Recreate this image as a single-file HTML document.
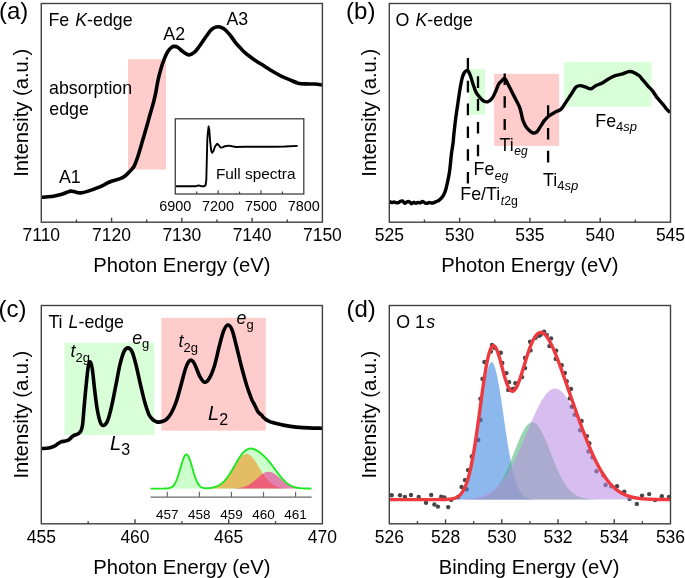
<!DOCTYPE html>
<html><head><meta charset="utf-8"><title>XAS figure</title>
<style>html,body{margin:0;padding:0;background:#fff;width:685px;height:578px;overflow:hidden}
svg text{font-family:"Liberation Sans",sans-serif;fill:#000}</style></head>
<body>
<svg width="685" height="578" viewBox="0 0 685 578" style="display:block;will-change:transform;font-family:'Liberation Sans', sans-serif">
<rect width="685" height="578" fill="#fff"/>
<rect x="128" y="59.3" width="38" height="110.2" fill="#ffcccc"/>
<path d="M41.50,197.30 C42.58,197.22 45.82,197.03 48.00,196.80 C50.18,196.57 52.28,196.32 54.60,195.90 C56.92,195.48 59.83,194.90 61.90,194.30 C63.97,193.70 65.53,192.83 67.00,192.30 C68.47,191.77 69.53,191.22 70.70,191.10 C71.87,190.98 72.78,191.33 74.00,191.60 C75.22,191.87 76.67,192.52 78.00,192.70 C79.33,192.88 80.30,192.97 82.00,192.70 C83.70,192.43 85.47,191.98 88.20,191.10 C90.93,190.22 95.60,188.53 98.40,187.40 C101.20,186.27 102.82,185.33 105.00,184.30 C107.18,183.27 108.95,182.13 111.50,181.20 C114.05,180.27 117.93,179.65 120.30,178.70 C122.67,177.75 124.00,176.85 125.70,175.50 C127.40,174.15 129.12,172.10 130.50,170.60 C131.88,169.10 132.95,168.33 134.00,166.50 C135.05,164.67 135.88,162.15 136.80,159.60 C137.72,157.05 138.58,154.20 139.50,151.20 C140.42,148.20 141.37,144.82 142.30,141.60 C143.23,138.38 144.17,135.13 145.10,131.90 C146.03,128.67 146.98,125.43 147.90,122.20 C148.82,118.97 149.68,115.73 150.60,112.50 C151.52,109.27 152.53,106.17 153.40,102.80 C154.27,99.43 155.03,96.05 155.80,92.30 C156.57,88.55 157.12,84.32 158.00,80.30 C158.88,76.28 160.02,71.85 161.10,68.20 C162.18,64.55 163.35,61.22 164.50,58.40 C165.65,55.58 166.83,53.15 168.00,51.30 C169.17,49.45 170.47,48.12 171.50,47.30 C172.53,46.48 173.17,46.40 174.20,46.40 C175.23,46.40 176.32,46.48 177.70,47.30 C179.08,48.12 180.65,50.03 182.50,51.30 C184.35,52.57 186.83,54.72 188.80,54.90 C190.77,55.08 192.57,53.80 194.30,52.40 C196.03,51.00 197.23,49.15 199.20,46.50 C201.17,43.85 203.98,39.38 206.10,36.50 C208.22,33.62 209.95,30.83 211.90,29.20 C213.85,27.57 215.85,26.82 217.80,26.70 C219.75,26.58 221.65,27.23 223.60,28.50 C225.55,29.77 227.55,32.00 229.50,34.30 C231.45,36.60 233.55,40.08 235.30,42.30 C237.05,44.52 238.30,45.78 240.00,47.60 C241.70,49.42 243.18,51.23 245.50,53.20 C247.82,55.17 250.90,57.33 253.90,59.40 C256.90,61.47 260.05,63.42 263.50,65.60 C266.95,67.78 271.58,70.72 274.60,72.50 C277.62,74.28 279.05,75.08 281.60,76.30 C284.15,77.52 287.13,78.65 289.90,79.80 C292.67,80.95 295.43,82.52 298.20,83.20 C300.97,83.88 303.73,83.77 306.50,83.90 C309.27,84.03 312.22,83.82 314.80,84.00 C317.38,84.18 320.80,84.83 322.00,85.00" fill="none" stroke="#000" stroke-width="3.6" stroke-linejoin="round" stroke-linecap="butt"/>
<rect x="41.30" y="3.50" width="281.10" height="218.70" fill="none" stroke="#404040" stroke-width="1.40"/>
<text x="41.30" y="241.20" font-size="17.50" text-anchor="middle">7110</text>
<line x1="76.44" y1="222.20" x2="76.44" y2="219.60" stroke="#404040" stroke-width="1.40"/>
<line x1="111.57" y1="222.20" x2="111.57" y2="217.70" stroke="#404040" stroke-width="1.40"/>
<text x="111.57" y="241.20" font-size="17.50" text-anchor="middle">7120</text>
<line x1="146.71" y1="222.20" x2="146.71" y2="219.60" stroke="#404040" stroke-width="1.40"/>
<line x1="181.85" y1="222.20" x2="181.85" y2="217.70" stroke="#404040" stroke-width="1.40"/>
<text x="181.85" y="241.20" font-size="17.50" text-anchor="middle">7130</text>
<line x1="216.99" y1="222.20" x2="216.99" y2="219.60" stroke="#404040" stroke-width="1.40"/>
<line x1="252.12" y1="222.20" x2="252.12" y2="217.70" stroke="#404040" stroke-width="1.40"/>
<text x="252.12" y="241.20" font-size="17.50" text-anchor="middle">7140</text>
<line x1="287.26" y1="222.20" x2="287.26" y2="219.60" stroke="#404040" stroke-width="1.40"/>
<text x="322.40" y="241.20" font-size="17.50" text-anchor="middle">7150</text>
<text x="48.40" y="25.60" font-size="17.80" text-anchor="start">Fe <tspan font-style="italic" dx="1.1">K</tspan>-edge</text>
<text x="49.10" y="93.60" font-size="17.80" text-anchor="start">absorption</text>
<text x="49.30" y="114.60" font-size="17.80" text-anchor="start">edge</text>
<text x="59.00" y="183.40" font-size="17.80" text-anchor="start">A1</text>
<text x="163.30" y="40.20" font-size="17.80" text-anchor="start">A2</text>
<text x="226.50" y="25.20" font-size="17.80" text-anchor="start">A3</text>
<path d="M176.00,186.30 L190.00,186.30 L196.00,186.20 L198.70,185.40 L201.00,186.20 L204.50,186.20 L205.60,185.00 L206.30,180.00 L206.80,160.00 L207.30,140.00 L207.90,132.00 L208.60,126.50 L209.30,130.00 L210.20,142.00 L211.20,150.50 L212.20,152.80 L213.50,151.00 L215.00,146.50 L217.10,143.80 L219.00,145.50 L220.70,147.60 L222.50,147.40 L225.00,146.20 L228.80,145.60 L232.00,146.30 L236.00,147.00 L245.00,146.80 L260.00,146.80 L275.00,146.70 L285.00,146.50 L297.70,145.90" fill="none" stroke="#000" stroke-width="1.9" stroke-linejoin="round"/>
<rect x="175.30" y="118.80" width="128.50" height="75.20" fill="none" stroke="#404040" stroke-width="1.30"/>
<text x="175.30" y="210.90" font-size="14.40" text-anchor="middle">6900</text>
<line x1="196.72" y1="194.00" x2="196.72" y2="191.60" stroke="#404040" stroke-width="1.20"/>
<line x1="218.13" y1="194.00" x2="218.13" y2="190.20" stroke="#404040" stroke-width="1.20"/>
<text x="218.13" y="210.90" font-size="14.40" text-anchor="middle">7200</text>
<line x1="239.55" y1="194.00" x2="239.55" y2="191.60" stroke="#404040" stroke-width="1.20"/>
<line x1="260.97" y1="194.00" x2="260.97" y2="190.20" stroke="#404040" stroke-width="1.20"/>
<text x="260.97" y="210.90" font-size="14.40" text-anchor="middle">7500</text>
<line x1="282.38" y1="194.00" x2="282.38" y2="191.60" stroke="#404040" stroke-width="1.20"/>
<text x="303.80" y="210.90" font-size="14.40" text-anchor="middle">7800</text>
<text x="215.90" y="179.10" font-size="15.40" text-anchor="start">Full spectra</text>
<text x="181.85" y="271.90" font-size="20.20" text-anchor="middle">Photon Energy (eV)</text>
<text x="0" y="0" font-size="20.20" text-anchor="middle" transform="translate(27.60,112.85) rotate(-90)">Intensity (a.u.)</text>
<text x="-1.10" y="18.60" font-size="24.00" text-anchor="start">(a)</text>
<rect x="469.3" y="68.8" width="15.7" height="45.9" fill="#d9ffd9"/>
<rect x="494.1" y="73.9" width="65" height="72" fill="#ffcccc"/>
<rect x="563.8" y="62.1" width="87.6" height="44.5" fill="#d9ffd9"/>
<path d="M389.50,201.72 C389.87,201.85 390.97,202.46 391.70,202.51 C392.43,202.57 393.17,202.04 393.90,202.06 C394.63,202.09 395.37,202.56 396.10,202.67 C396.83,202.78 397.57,202.96 398.30,202.73 C399.03,202.49 399.77,201.54 400.50,201.27 C401.23,201.00 401.97,200.80 402.70,201.13 C403.43,201.47 404.17,203.17 404.90,203.28 C405.63,203.38 406.37,202.04 407.10,201.77 C407.83,201.51 408.57,201.39 409.30,201.71 C410.03,202.03 410.77,203.59 411.50,203.69 C412.23,203.79 412.97,202.39 413.70,202.32 C414.43,202.25 415.17,203.27 415.90,203.27 C416.63,203.28 417.37,202.42 418.10,202.34 C418.83,202.25 419.57,202.90 420.30,202.76 C421.03,202.62 421.77,201.49 422.50,201.49 C423.23,201.49 423.97,202.44 424.70,202.75 C425.43,203.06 426.17,203.41 426.90,203.36 C427.63,203.31 428.37,202.52 429.10,202.46 C429.83,202.41 430.57,202.96 431.30,203.03 C432.03,203.09 432.72,203.08 433.50,202.85 C434.28,202.61 435.10,202.02 436.00,201.60 C436.90,201.18 437.82,201.10 438.90,200.30 C439.98,199.50 441.43,198.33 442.50,196.80 C443.57,195.27 444.48,193.47 445.30,191.10 C446.12,188.73 446.68,185.92 447.40,182.60 C448.12,179.28 448.93,175.93 449.60,171.20 C450.27,166.47 450.82,158.93 451.40,154.20 C451.98,149.47 452.70,146.00 453.10,142.80 C453.50,139.60 453.40,138.80 453.80,135.00 C454.20,131.20 454.88,124.85 455.50,120.00 C456.12,115.15 456.68,111.43 457.50,105.90 C458.32,100.37 459.55,91.70 460.40,86.80 C461.25,81.90 461.85,78.97 462.60,76.50 C463.35,74.03 464.03,72.98 464.90,72.00 C465.77,71.02 466.83,69.85 467.80,70.60 C468.77,71.35 469.85,74.30 470.70,76.50 C471.55,78.70 472.03,81.23 472.90,83.80 C473.77,86.37 474.78,89.68 475.90,91.90 C477.02,94.12 478.38,95.63 479.60,97.10 C480.82,98.57 481.87,99.92 483.20,100.70 C484.53,101.48 486.13,102.17 487.60,101.80 C489.07,101.43 490.65,100.27 492.00,98.50 C493.35,96.73 494.58,93.62 495.70,91.20 C496.82,88.78 497.72,85.70 498.70,84.00 C499.68,82.30 500.62,81.93 501.60,81.00 C502.58,80.07 503.62,78.03 504.60,78.40 C505.58,78.77 506.28,80.93 507.50,83.20 C508.72,85.47 510.55,89.33 511.90,92.00 C513.25,94.67 514.25,96.47 515.60,99.20 C516.95,101.93 518.83,105.07 520.00,108.40 C521.17,111.73 521.72,116.33 522.60,119.20 C523.48,122.07 524.27,123.80 525.30,125.60 C526.33,127.40 527.63,128.83 528.80,130.00 C529.97,131.17 531.27,132.13 532.30,132.60 C533.33,133.07 534.13,133.05 535.00,132.80 C535.87,132.55 536.50,132.30 537.50,131.10 C538.50,129.90 539.83,127.38 541.00,125.60 C542.17,123.82 543.18,122.00 544.50,120.40 C545.82,118.80 547.43,117.18 548.90,116.00 C550.37,114.82 552.13,114.02 553.30,113.30 C554.47,112.58 554.88,112.20 555.90,111.70 C556.92,111.20 558.38,110.90 559.40,110.30 C560.42,109.70 560.98,109.33 562.00,108.10 C563.02,106.87 563.97,105.22 565.50,102.90 C567.03,100.58 569.45,96.83 571.20,94.20 C572.95,91.57 574.47,88.53 576.00,87.10 C577.53,85.67 578.78,85.60 580.40,85.60 C582.02,85.60 583.95,86.55 585.70,87.10 C587.45,87.65 589.30,89.10 590.90,88.90 C592.50,88.70 593.40,86.90 595.30,85.90 C597.20,84.90 600.25,83.98 602.30,82.90 C604.35,81.82 605.55,80.57 607.60,79.40 C609.65,78.23 612.27,76.77 614.60,75.90 C616.93,75.03 618.98,74.93 621.60,74.20 C624.22,73.47 627.38,71.27 630.30,71.50 C633.22,71.73 637.10,74.28 639.10,75.60 C641.10,76.92 640.85,77.70 642.30,79.40 C643.75,81.10 646.10,83.88 647.80,85.80 C649.50,87.72 650.95,88.93 652.50,90.90 C654.05,92.87 655.28,95.27 657.10,97.60 C658.92,99.93 661.83,103.00 663.40,104.90 C664.97,106.80 665.40,107.73 666.50,109.00 C667.60,110.27 669.42,111.92 670.00,112.50" fill="none" stroke="#000" stroke-width="3.4" stroke-linejoin="round" stroke-linecap="butt"/>
<line x1="467.90" y1="58.00" x2="467.90" y2="195.00" stroke="#000" stroke-width="2.3" stroke-dasharray="11.6 11.2"/>
<line x1="478.00" y1="76.30" x2="478.00" y2="166.00" stroke="#000" stroke-width="2.3" stroke-dasharray="11.6 11.2"/>
<line x1="504.70" y1="73.40" x2="504.70" y2="130.00" stroke="#000" stroke-width="2.3" stroke-dasharray="11.6 11.2"/>
<line x1="548.10" y1="105.20" x2="548.10" y2="163.00" stroke="#000" stroke-width="2.3" stroke-dasharray="11.6 11.2"/>
<rect x="389.30" y="3.50" width="281.20" height="218.70" fill="none" stroke="#404040" stroke-width="1.40"/>
<text x="389.30" y="241.20" font-size="17.50" text-anchor="middle">525</text>
<line x1="424.45" y1="222.20" x2="424.45" y2="219.60" stroke="#404040" stroke-width="1.40"/>
<line x1="459.60" y1="222.20" x2="459.60" y2="217.70" stroke="#404040" stroke-width="1.40"/>
<text x="459.60" y="241.20" font-size="17.50" text-anchor="middle">530</text>
<line x1="494.75" y1="222.20" x2="494.75" y2="219.60" stroke="#404040" stroke-width="1.40"/>
<line x1="529.90" y1="222.20" x2="529.90" y2="217.70" stroke="#404040" stroke-width="1.40"/>
<text x="529.90" y="241.20" font-size="17.50" text-anchor="middle">535</text>
<line x1="565.05" y1="222.20" x2="565.05" y2="219.60" stroke="#404040" stroke-width="1.40"/>
<line x1="600.20" y1="222.20" x2="600.20" y2="217.70" stroke="#404040" stroke-width="1.40"/>
<text x="600.20" y="241.20" font-size="17.50" text-anchor="middle">540</text>
<line x1="635.35" y1="222.20" x2="635.35" y2="219.60" stroke="#404040" stroke-width="1.40"/>
<text x="670.50" y="241.20" font-size="17.50" text-anchor="middle">545</text>
<text x="395.60" y="26.00" font-size="17.80" text-anchor="start">O <tspan font-style="italic" dx="1.1">K</tspan>-edge</text>
<text x="499.50" y="150.60" font-size="17.80">Ti<tspan font-size="12.00" dx="0.60" dy="4.40"><tspan font-style="italic">eg</tspan></tspan></text>
<text x="473.60" y="175.30" font-size="17.80">Fe<tspan font-size="12.00" dx="0.50" dy="4.40"><tspan font-style="italic">eg</tspan></tspan></text>
<text x="460.30" y="199.90" font-size="17.80">Fe/Ti<tspan font-size="12.30" dx="0.70" dy="4.60"><tspan font-style="italic">t</tspan>2g</tspan></text>
<text x="543.00" y="186.00" font-size="17.80">Ti<tspan font-size="13.00" dx="0.00" dy="4.20">4<tspan font-style="italic">sp</tspan></tspan></text>
<text x="595.30" y="127.20" font-size="17.80">Fe<tspan font-size="13.00" dx="0.00" dy="4.20">4<tspan font-style="italic">sp</tspan></tspan></text>
<text x="529.90" y="271.90" font-size="20.20" text-anchor="middle">Photon Energy (eV)</text>
<text x="0" y="0" font-size="20.20" text-anchor="middle" transform="translate(376.00,112.85) rotate(-90)">Intensity (a.u.)</text>
<text x="346.10" y="18.60" font-size="24.00" text-anchor="start">(b)</text>
<rect x="64.5" y="342.6" width="89.6" height="92.5" fill="#d9ffd9"/>
<rect x="161.4" y="317.8" width="104.4" height="112.9" fill="#ffcccc"/>
<path d="M41.50,448.50 C42.72,448.42 46.57,448.45 48.80,448.00 C51.03,447.55 53.37,446.53 54.90,445.80 C56.43,445.07 56.98,444.25 58.00,443.60 C59.02,442.95 59.77,442.33 61.00,441.90 C62.23,441.47 64.08,441.37 65.40,441.00 C66.72,440.63 67.58,440.57 68.90,439.70 C70.22,438.83 71.83,436.75 73.30,435.80 C74.77,434.85 76.47,434.73 77.70,434.00 C78.93,433.27 79.90,432.85 80.70,431.40 C81.50,429.95 81.95,429.12 82.50,425.30 C83.05,421.48 83.40,415.10 84.00,408.50 C84.60,401.90 85.40,392.62 86.10,385.70 C86.80,378.78 87.52,370.98 88.20,367.00 C88.88,363.02 89.52,361.47 90.20,361.80 C90.88,362.13 91.60,364.68 92.30,369.00 C93.00,373.32 93.60,381.12 94.40,387.70 C95.20,394.28 96.13,402.78 97.10,408.50 C98.07,414.22 99.17,419.17 100.20,422.00 C101.23,424.83 102.08,425.67 103.30,425.50 C104.52,425.33 106.12,424.18 107.50,421.00 C108.88,417.82 110.22,412.28 111.60,406.40 C112.98,400.52 114.42,392.62 115.80,385.70 C117.18,378.78 118.52,370.62 119.90,364.90 C121.28,359.18 122.72,354.23 124.10,351.40 C125.48,348.57 126.82,347.72 128.20,347.90 C129.58,348.08 131.02,349.32 132.40,352.50 C133.78,355.68 135.12,361.47 136.50,367.00 C137.88,372.53 139.32,379.82 140.70,385.70 C142.08,391.58 143.42,397.47 144.80,402.30 C146.18,407.13 147.62,411.77 149.00,414.70 C150.38,417.63 151.93,418.77 153.10,419.90 C154.27,421.03 154.97,421.13 156.00,421.50 C157.03,421.87 157.70,422.35 159.30,422.10 C160.90,421.85 163.68,421.38 165.60,420.00 C167.52,418.62 169.07,416.73 170.80,413.80 C172.53,410.87 174.28,407.25 176.00,402.40 C177.72,397.55 179.55,390.23 181.10,384.70 C182.65,379.17 184.08,373.00 185.30,369.20 C186.52,365.40 187.37,363.40 188.40,361.90 C189.43,360.40 190.47,359.85 191.50,360.20 C192.53,360.55 193.22,361.30 194.60,364.00 C195.98,366.70 198.17,373.37 199.80,376.40 C201.43,379.43 202.83,381.85 204.40,382.20 C205.97,382.55 207.53,381.20 209.20,378.50 C210.87,375.80 212.68,371.53 214.40,366.00 C216.12,360.47 217.95,351.17 219.50,345.30 C221.05,339.43 222.32,334.18 223.70,330.80 C225.08,327.42 226.42,325.18 227.80,325.00 C229.18,324.82 230.60,326.32 232.00,329.70 C233.40,333.08 234.65,339.25 236.20,345.30 C237.75,351.35 239.58,359.43 241.30,366.00 C243.02,372.57 244.77,379.15 246.50,384.70 C248.23,390.25 250.42,396.07 251.70,399.30 C252.98,402.53 253.15,402.03 254.20,404.10 C255.25,406.17 256.78,409.88 258.00,411.70 C259.22,413.52 260.47,413.95 261.50,415.00 C262.53,416.05 263.00,416.98 264.20,418.00 C265.40,419.02 266.33,420.10 268.70,421.10 C271.07,422.10 274.77,423.12 278.40,424.00 C282.03,424.88 286.47,425.80 290.50,426.40 C294.53,427.00 297.35,427.28 302.60,427.60 C307.85,427.92 318.77,428.18 322.00,428.30" fill="none" stroke="#000" stroke-width="3.6" stroke-linejoin="round" stroke-linecap="butt"/>
<path d="M150.50,488.60 L150.50,488.60 L151.00,488.60 L151.50,488.60 L152.00,488.60 L152.50,488.60 L153.00,488.60 L153.50,488.60 L154.00,488.60 L154.50,488.60 L155.00,488.60 L155.50,488.60 L156.00,488.60 L156.50,488.60 L157.00,488.60 L157.50,488.60 L158.00,488.60 L158.50,488.60 L159.00,488.60 L159.50,488.60 L160.00,488.60 L160.50,488.60 L161.00,488.60 L161.50,488.60 L162.00,488.59 L162.50,488.59 L163.00,488.59 L163.50,488.58 L164.00,488.57 L164.50,488.57 L165.00,488.55 L165.50,488.54 L166.00,488.51 L166.50,488.48 L167.00,488.45 L167.50,488.40 L168.00,488.34 L168.50,488.26 L169.00,488.16 L169.50,488.04 L170.00,487.88 L170.50,487.70 L171.00,487.47 L171.50,487.19 L172.00,486.87 L172.50,486.47 L173.00,486.01 L173.50,485.48 L174.00,484.85 L174.50,484.14 L175.00,483.33 L175.50,482.41 L176.00,481.39 L176.50,480.26 L177.00,479.02 L177.50,477.67 L178.00,476.22 L178.50,474.69 L179.00,473.07 L179.50,471.39 L180.00,469.67 L180.50,467.92 L181.00,466.17 L181.50,464.45 L182.00,462.78 L182.50,461.19 L183.00,459.72 L183.50,458.38 L184.00,457.21 L184.50,456.22 L185.00,455.45 L185.50,454.89 L186.00,454.58 L186.50,454.50 L187.00,454.68 L187.50,455.09 L188.00,455.73 L188.50,456.59 L189.00,457.65 L189.50,458.90 L190.00,460.29 L190.50,461.81 L191.00,463.43 L191.50,465.13 L192.00,466.86 L192.50,468.61 L193.00,470.36 L193.50,472.06 L194.00,473.72 L194.50,475.30 L195.00,476.80 L195.50,478.21 L196.00,479.51 L196.50,480.71 L197.00,481.79 L197.50,482.77 L198.00,483.64 L198.50,484.41 L199.00,485.08 L199.50,485.66 L200.00,486.16 L200.50,486.59 L201.00,486.95 L201.50,487.25 L202.00,487.49 L202.50,487.69 L203.00,487.85 L203.50,487.98 L204.00,488.07 L204.50,488.15 L205.00,488.20 L205.50,488.23 L206.00,488.25 L206.50,488.25 L207.00,488.25 L207.50,488.23 L208.00,488.21 L208.50,488.18 L209.00,488.14 L209.50,488.09 L210.00,488.03 L210.50,487.97 L211.00,487.90 L211.50,487.82 L212.00,487.73 L212.50,487.64 L213.00,487.53 L213.50,487.42 L214.00,487.29 L214.50,487.15 L215.00,487.00 L215.50,486.84 L216.00,486.66 L216.50,486.47 L217.00,486.27 L217.50,486.04 L218.00,485.81 L218.50,485.55 L219.00,485.27 L219.50,484.98 L220.00,484.67 L220.50,484.33 L221.00,483.98 L221.50,483.60 L222.00,483.20 L222.50,482.78 L223.00,482.33 L223.50,481.86 L224.00,481.36 L224.50,480.85 L225.00,480.30 L225.50,479.73 L226.00,479.14 L226.50,478.52 L227.00,477.88 L227.50,477.22 L228.00,476.53 L228.50,475.82 L229.00,475.08 L229.50,474.33 L230.00,473.56 L230.50,472.77 L231.00,471.96 L231.50,471.14 L232.00,470.31 L232.50,469.46 L233.00,468.60 L233.50,467.74 L234.00,466.87 L234.50,466.00 L235.00,465.12 L235.50,464.25 L236.00,463.38 L236.50,462.51 L237.00,461.65 L237.50,460.81 L238.00,459.98 L238.50,459.16 L239.00,458.36 L239.50,457.58 L240.00,456.83 L240.50,456.09 L241.00,455.39 L241.50,454.71 L242.00,454.07 L242.50,453.45 L243.00,452.87 L243.50,452.32 L244.00,451.81 L244.50,451.34 L245.00,450.90 L245.50,450.50 L246.00,450.14 L246.50,449.81 L247.00,449.53 L247.50,449.28 L248.00,449.07 L248.50,448.90 L249.00,448.77 L249.50,448.67 L250.00,448.60 L250.50,448.57 L251.00,448.57 L251.50,448.60 L252.00,448.67 L252.50,448.76 L253.00,448.87 L253.50,449.02 L254.00,449.19 L254.50,449.38 L255.00,449.59 L255.50,449.83 L256.00,450.08 L256.50,450.35 L257.00,450.64 L257.50,450.95 L258.00,451.27 L258.50,451.60 L259.00,451.95 L259.50,452.32 L260.00,452.69 L260.50,453.08 L261.00,453.48 L261.50,453.89 L262.00,454.31 L262.50,454.74 L263.00,455.19 L263.50,455.65 L264.00,456.11 L264.50,456.59 L265.00,457.09 L265.50,457.59 L266.00,458.11 L266.50,458.64 L267.00,459.18 L267.50,459.73 L268.00,460.30 L268.50,460.88 L269.00,461.47 L269.50,462.07 L270.00,462.68 L270.50,463.30 L271.00,463.94 L271.50,464.58 L272.00,465.23 L272.50,465.89 L273.00,466.55 L273.50,467.22 L274.00,467.90 L274.50,468.58 L275.00,469.26 L275.50,469.95 L276.00,470.63 L276.50,471.31 L277.00,471.99 L277.50,472.67 L278.00,473.34 L278.50,474.00 L279.00,474.65 L279.50,475.30 L280.00,475.94 L280.50,476.56 L281.00,477.17 L281.50,477.77 L282.00,478.35 L282.50,478.91 L283.00,479.46 L283.50,480.00 L284.00,480.51 L284.50,481.01 L285.00,481.49 L285.50,481.95 L286.00,482.39 L286.50,482.81 L287.00,483.21 L287.50,483.59 L288.00,483.96 L288.50,484.30 L289.00,484.63 L289.50,484.93 L290.00,485.22 L290.50,485.50 L291.00,485.75 L291.50,485.99 L292.00,486.22 L292.50,486.42 L293.00,486.62 L293.50,486.80 L294.00,486.96 L294.50,487.12 L295.00,487.26 L295.50,487.39 L296.00,487.51 L296.50,487.62 L297.00,487.72 L297.50,487.81 L298.00,487.89 L298.50,487.97 L299.00,488.04 L299.50,488.10 L300.00,488.16 L300.50,488.21 L301.00,488.25 L301.50,488.29 L302.00,488.33 L302.50,488.36 L303.00,488.39 L303.50,488.42 L304.00,488.44 L304.50,488.46 L305.00,488.48 L305.50,488.49 L306.00,488.51 L306.50,488.52 L307.00,488.53 L307.50,488.54 L308.00,488.55 L308.50,488.56 L309.00,488.56 L309.50,488.57 L310.00,488.57 L310.50,488.58 L311.00,488.58 L311.50,488.58 L311.50,488.60 Z" fill="#ccffcc"/>
<path d="M205.00,488.60 L205.00,488.43 L205.50,488.41 L206.00,488.39 L206.50,488.36 L207.00,488.33 L207.50,488.29 L208.00,488.25 L208.50,488.21 L209.00,488.16 L209.50,488.10 L210.00,488.04 L210.50,487.98 L211.00,487.90 L211.50,487.82 L212.00,487.74 L212.50,487.64 L213.00,487.53 L213.50,487.42 L214.00,487.29 L214.50,487.15 L215.00,487.00 L215.50,486.84 L216.00,486.67 L216.50,486.47 L217.00,486.27 L217.50,486.05 L218.00,485.81 L218.50,485.56 L219.00,485.28 L219.50,484.99 L220.00,484.68 L220.50,484.34 L221.00,483.99 L221.50,483.62 L222.00,483.22 L222.50,482.80 L223.00,482.35 L223.50,481.89 L224.00,481.40 L224.50,480.88 L225.00,480.34 L225.50,479.78 L226.00,479.20 L226.50,478.59 L227.00,477.96 L227.50,477.30 L228.00,476.62 L228.50,475.93 L229.00,475.21 L229.50,474.47 L230.00,473.72 L230.50,472.95 L231.00,472.17 L231.50,471.38 L232.00,470.57 L232.50,469.75 L233.00,468.93 L233.50,468.11 L234.00,467.28 L234.50,466.46 L235.00,465.64 L235.50,464.82 L236.00,464.02 L236.50,463.22 L237.00,462.44 L237.50,461.68 L238.00,460.94 L238.50,460.23 L239.00,459.54 L239.50,458.88 L240.00,458.25 L240.50,457.65 L241.00,457.10 L241.50,456.58 L242.00,456.11 L242.50,455.67 L243.00,455.29 L243.50,454.95 L244.00,454.66 L244.50,454.43 L245.00,454.24 L245.50,454.11 L246.00,454.03 L246.50,454.00 L247.00,454.03 L247.50,454.11 L248.00,454.24 L248.50,454.43 L249.00,454.66 L249.50,454.95 L250.00,455.29 L250.50,455.67 L251.00,456.11 L251.50,456.58 L252.00,457.10 L252.50,457.65 L253.00,458.25 L253.50,458.88 L254.00,459.54 L254.50,460.23 L255.00,460.94 L255.50,461.68 L256.00,462.44 L256.50,463.22 L257.00,464.02 L257.50,464.82 L258.00,465.64 L258.50,466.46 L259.00,467.28 L259.50,468.11 L260.00,468.93 L260.50,469.75 L261.00,470.57 L261.50,471.38 L262.00,472.17 L262.50,472.95 L263.00,473.72 L263.50,474.47 L264.00,475.21 L264.50,475.93 L265.00,476.62 L265.50,477.30 L266.00,477.96 L266.50,478.59 L267.00,479.20 L267.50,479.78 L268.00,480.34 L268.50,480.88 L269.00,481.40 L269.50,481.89 L270.00,482.35 L270.50,482.80 L271.00,483.22 L271.50,483.62 L272.00,483.99 L272.50,484.34 L273.00,484.68 L273.50,484.99 L274.00,485.28 L274.50,485.56 L275.00,485.81 L275.50,486.05 L276.00,486.27 L276.50,486.47 L277.00,486.67 L277.50,486.84 L278.00,487.00 L278.50,487.15 L279.00,487.29 L279.50,487.42 L280.00,487.53 L280.50,487.64 L281.00,487.74 L281.50,487.82 L282.00,487.90 L282.50,487.98 L283.00,488.04 L283.50,488.10 L284.00,488.16 L284.50,488.21 L285.00,488.25 L285.50,488.29 L286.00,488.33 L286.50,488.36 L287.00,488.39 L287.50,488.41 L288.00,488.43 L288.50,488.45 L289.00,488.47 L289.50,488.49 L290.00,488.50 L290.50,488.51 L291.00,488.53 L291.50,488.54 L292.00,488.54 L292.50,488.55 L293.00,488.56 L293.50,488.56 L294.00,488.57 L294.50,488.57 L295.00,488.58 L295.50,488.58 L296.00,488.58 L296.50,488.59 L297.00,488.59 L297.50,488.59 L298.00,488.59 L298.50,488.59 L299.00,488.59 L299.50,488.59 L300.00,488.60 L300.50,488.60 L301.00,488.60 L301.50,488.60 L302.00,488.60 L302.50,488.60 L303.00,488.60 L303.50,488.60 L304.00,488.60 L304.50,488.60 L305.00,488.60 L305.50,488.60 L306.00,488.60 L306.50,488.60 L307.00,488.60 L307.50,488.60 L308.00,488.60 L308.50,488.60 L309.00,488.60 L309.50,488.60 L310.00,488.60 L310.50,488.60 L311.00,488.60 L311.50,488.60 L311.50,488.60 Z" fill="#e4bc64"/>
<path d="M225.00,488.60 L225.00,488.59 L225.50,488.59 L226.00,488.58 L226.50,488.58 L227.00,488.58 L227.50,488.57 L228.00,488.57 L228.50,488.56 L229.00,488.56 L229.50,488.55 L230.00,488.54 L230.50,488.53 L231.00,488.52 L231.50,488.51 L232.00,488.50 L232.50,488.48 L233.00,488.46 L233.50,488.44 L234.00,488.42 L234.50,488.40 L235.00,488.37 L235.50,488.34 L236.00,488.30 L236.50,488.26 L237.00,488.22 L237.50,488.17 L238.00,488.12 L238.50,488.06 L239.00,488.00 L239.50,487.93 L240.00,487.85 L240.50,487.76 L241.00,487.67 L241.50,487.57 L242.00,487.46 L242.50,487.34 L243.00,487.21 L243.50,487.07 L244.00,486.92 L244.50,486.75 L245.00,486.58 L245.50,486.39 L246.00,486.19 L246.50,485.98 L247.00,485.75 L247.50,485.51 L248.00,485.26 L248.50,484.99 L249.00,484.70 L249.50,484.41 L250.00,484.09 L250.50,483.77 L251.00,483.43 L251.50,483.08 L252.00,482.71 L252.50,482.33 L253.00,481.94 L253.50,481.54 L254.00,481.13 L254.50,480.71 L255.00,480.29 L255.50,479.85 L256.00,479.42 L256.50,478.97 L257.00,478.53 L257.50,478.08 L258.00,477.64 L258.50,477.20 L259.00,476.76 L259.50,476.33 L260.00,475.91 L260.50,475.49 L261.00,475.09 L261.50,474.71 L262.00,474.34 L262.50,473.99 L263.00,473.65 L263.50,473.34 L264.00,473.05 L264.50,472.79 L265.00,472.55 L265.50,472.34 L266.00,472.16 L266.50,472.01 L267.00,471.88 L267.50,471.79 L268.00,471.73 L268.50,471.70 L269.00,471.71 L269.50,471.74 L270.00,471.81 L270.50,471.91 L271.00,472.03 L271.50,472.19 L272.00,472.38 L272.50,472.60 L273.00,472.84 L273.50,473.11 L274.00,473.40 L274.50,473.72 L275.00,474.05 L275.50,474.41 L276.00,474.78 L276.50,475.17 L277.00,475.58 L277.50,475.99 L278.00,476.41 L278.50,476.85 L279.00,477.28 L279.50,477.73 L280.00,478.17 L280.50,478.62 L281.00,479.06 L281.50,479.50 L282.00,479.94 L282.50,480.37 L283.00,480.80 L283.50,481.22 L284.00,481.63 L284.50,482.02 L285.00,482.41 L285.50,482.79 L286.00,483.15 L286.50,483.50 L287.00,483.84 L287.50,484.16 L288.00,484.47 L288.50,484.76 L289.00,485.04 L289.50,485.31 L290.00,485.56 L290.50,485.80 L291.00,486.02 L291.50,486.23 L292.00,486.43 L292.50,486.61 L293.00,486.79 L293.50,486.95 L294.00,487.10 L294.50,487.24 L295.00,487.36 L295.50,487.48 L296.00,487.59 L296.50,487.69 L297.00,487.78 L297.50,487.87 L298.00,487.94 L298.50,488.01 L299.00,488.07 L299.50,488.13 L300.00,488.18 L300.50,488.23 L301.00,488.27 L301.50,488.31 L302.00,488.34 L302.50,488.38 L303.00,488.40 L303.50,488.43 L304.00,488.45 L304.50,488.47 L305.00,488.48 L305.50,488.50 L306.00,488.51 L306.50,488.52 L307.00,488.53 L307.50,488.54 L308.00,488.55 L308.50,488.56 L309.00,488.56 L309.50,488.57 L310.00,488.57 L310.50,488.58 L311.00,488.58 L311.50,488.58 L311.50,488.60 Z" fill="#f8008a" fill-opacity="0.49"/>
<path d="M150.50,488.60 L151.00,488.60 L151.50,488.60 L152.00,488.60 L152.50,488.60 L153.00,488.60 L153.50,488.60 L154.00,488.60 L154.50,488.60 L155.00,488.60 L155.50,488.60 L156.00,488.60 L156.50,488.60 L157.00,488.60 L157.50,488.60 L158.00,488.60 L158.50,488.60 L159.00,488.60 L159.50,488.60 L160.00,488.60 L160.50,488.60 L161.00,488.60 L161.50,488.60 L162.00,488.59 L162.50,488.59 L163.00,488.59 L163.50,488.58 L164.00,488.57 L164.50,488.57 L165.00,488.55 L165.50,488.54 L166.00,488.51 L166.50,488.48 L167.00,488.45 L167.50,488.40 L168.00,488.34 L168.50,488.26 L169.00,488.16 L169.50,488.04 L170.00,487.88 L170.50,487.70 L171.00,487.47 L171.50,487.19 L172.00,486.87 L172.50,486.47 L173.00,486.01 L173.50,485.48 L174.00,484.85 L174.50,484.14 L175.00,483.33 L175.50,482.41 L176.00,481.39 L176.50,480.26 L177.00,479.02 L177.50,477.67 L178.00,476.22 L178.50,474.69 L179.00,473.07 L179.50,471.39 L180.00,469.67 L180.50,467.92 L181.00,466.17 L181.50,464.45 L182.00,462.78 L182.50,461.19 L183.00,459.72 L183.50,458.38 L184.00,457.21 L184.50,456.22 L185.00,455.45 L185.50,454.89 L186.00,454.58 L186.50,454.50 L187.00,454.68 L187.50,455.09 L188.00,455.73 L188.50,456.59 L189.00,457.65 L189.50,458.90 L190.00,460.29 L190.50,461.81 L191.00,463.43 L191.50,465.13 L192.00,466.86 L192.50,468.61 L193.00,470.36 L193.50,472.06 L194.00,473.72 L194.50,475.30 L195.00,476.80 L195.50,478.21 L196.00,479.51 L196.50,480.71 L197.00,481.79 L197.50,482.77 L198.00,483.64 L198.50,484.41 L199.00,485.08 L199.50,485.66 L200.00,486.16 L200.50,486.59 L201.00,486.95 L201.50,487.25 L202.00,487.49 L202.50,487.69 L203.00,487.85 L203.50,487.98 L204.00,488.07 L204.50,488.15 L205.00,488.20 L205.50,488.23 L206.00,488.25 L206.50,488.25 L207.00,488.25 L207.50,488.23 L208.00,488.21 L208.50,488.18 L209.00,488.14 L209.50,488.09 L210.00,488.03 L210.50,487.97 L211.00,487.90 L211.50,487.82 L212.00,487.73 L212.50,487.64 L213.00,487.53 L213.50,487.42 L214.00,487.29 L214.50,487.15 L215.00,487.00 L215.50,486.84 L216.00,486.66 L216.50,486.47 L217.00,486.27 L217.50,486.04 L218.00,485.81 L218.50,485.55 L219.00,485.27 L219.50,484.98 L220.00,484.67 L220.50,484.33 L221.00,483.98 L221.50,483.60 L222.00,483.20 L222.50,482.78 L223.00,482.33 L223.50,481.86 L224.00,481.36 L224.50,480.85 L225.00,480.30 L225.50,479.73 L226.00,479.14 L226.50,478.52 L227.00,477.88 L227.50,477.22 L228.00,476.53 L228.50,475.82 L229.00,475.08 L229.50,474.33 L230.00,473.56 L230.50,472.77 L231.00,471.96 L231.50,471.14 L232.00,470.31 L232.50,469.46 L233.00,468.60 L233.50,467.74 L234.00,466.87 L234.50,466.00 L235.00,465.12 L235.50,464.25 L236.00,463.38 L236.50,462.51 L237.00,461.65 L237.50,460.81 L238.00,459.98 L238.50,459.16 L239.00,458.36 L239.50,457.58 L240.00,456.83 L240.50,456.09 L241.00,455.39 L241.50,454.71 L242.00,454.07 L242.50,453.45 L243.00,452.87 L243.50,452.32 L244.00,451.81 L244.50,451.34 L245.00,450.90 L245.50,450.50 L246.00,450.14 L246.50,449.81 L247.00,449.53 L247.50,449.28 L248.00,449.07 L248.50,448.90 L249.00,448.77 L249.50,448.67 L250.00,448.60 L250.50,448.57 L251.00,448.57 L251.50,448.60 L252.00,448.67 L252.50,448.76 L253.00,448.87 L253.50,449.02 L254.00,449.19 L254.50,449.38 L255.00,449.59 L255.50,449.83 L256.00,450.08 L256.50,450.35 L257.00,450.64 L257.50,450.95 L258.00,451.27 L258.50,451.60 L259.00,451.95 L259.50,452.32 L260.00,452.69 L260.50,453.08 L261.00,453.48 L261.50,453.89 L262.00,454.31 L262.50,454.74 L263.00,455.19 L263.50,455.65 L264.00,456.11 L264.50,456.59 L265.00,457.09 L265.50,457.59 L266.00,458.11 L266.50,458.64 L267.00,459.18 L267.50,459.73 L268.00,460.30 L268.50,460.88 L269.00,461.47 L269.50,462.07 L270.00,462.68 L270.50,463.30 L271.00,463.94 L271.50,464.58 L272.00,465.23 L272.50,465.89 L273.00,466.55 L273.50,467.22 L274.00,467.90 L274.50,468.58 L275.00,469.26 L275.50,469.95 L276.00,470.63 L276.50,471.31 L277.00,471.99 L277.50,472.67 L278.00,473.34 L278.50,474.00 L279.00,474.65 L279.50,475.30 L280.00,475.94 L280.50,476.56 L281.00,477.17 L281.50,477.77 L282.00,478.35 L282.50,478.91 L283.00,479.46 L283.50,480.00 L284.00,480.51 L284.50,481.01 L285.00,481.49 L285.50,481.95 L286.00,482.39 L286.50,482.81 L287.00,483.21 L287.50,483.59 L288.00,483.96 L288.50,484.30 L289.00,484.63 L289.50,484.93 L290.00,485.22 L290.50,485.50 L291.00,485.75 L291.50,485.99 L292.00,486.22 L292.50,486.42 L293.00,486.62 L293.50,486.80 L294.00,486.96 L294.50,487.12 L295.00,487.26 L295.50,487.39 L296.00,487.51 L296.50,487.62 L297.00,487.72 L297.50,487.81 L298.00,487.89 L298.50,487.97 L299.00,488.04 L299.50,488.10 L300.00,488.16 L300.50,488.21 L301.00,488.25 L301.50,488.29 L302.00,488.33 L302.50,488.36 L303.00,488.39 L303.50,488.42 L304.00,488.44 L304.50,488.46 L305.00,488.48 L305.50,488.49 L306.00,488.51 L306.50,488.52 L307.00,488.53 L307.50,488.54 L308.00,488.55 L308.50,488.56 L309.00,488.56 L309.50,488.57 L310.00,488.57 L310.50,488.58 L311.00,488.58 L311.50,488.58" fill="none" stroke="#1ee81e" stroke-width="1.9" stroke-linejoin="round"/>
<line x1="150.5" y1="497.1" x2="311.7" y2="497.1" stroke="#6a6a6a" stroke-width="1.4"/>
<line x1="167.30" y1="497.1" x2="167.30" y2="491.8" stroke="#6a6a6a" stroke-width="1.2"/>
<text x="167.30" y="518.60" font-size="13.50" text-anchor="middle">457</text>
<line x1="199.37" y1="497.1" x2="199.37" y2="491.8" stroke="#6a6a6a" stroke-width="1.2"/>
<text x="199.37" y="518.60" font-size="13.50" text-anchor="middle">458</text>
<line x1="231.44" y1="497.1" x2="231.44" y2="491.8" stroke="#6a6a6a" stroke-width="1.2"/>
<text x="231.44" y="518.60" font-size="13.50" text-anchor="middle">459</text>
<line x1="263.51" y1="497.1" x2="263.51" y2="491.8" stroke="#6a6a6a" stroke-width="1.2"/>
<text x="263.51" y="518.60" font-size="13.50" text-anchor="middle">460</text>
<line x1="295.58" y1="497.1" x2="295.58" y2="491.8" stroke="#6a6a6a" stroke-width="1.2"/>
<text x="295.58" y="518.60" font-size="13.50" text-anchor="middle">461</text>
<rect x="41.30" y="305.50" width="281.10" height="218.30" fill="none" stroke="#404040" stroke-width="1.40"/>
<text x="41.30" y="542.80" font-size="17.50" text-anchor="middle">455</text>
<line x1="88.15" y1="523.80" x2="88.15" y2="521.20" stroke="#404040" stroke-width="1.40"/>
<line x1="135.00" y1="523.80" x2="135.00" y2="519.30" stroke="#404040" stroke-width="1.40"/>
<text x="135.00" y="542.80" font-size="17.50" text-anchor="middle">460</text>
<line x1="181.85" y1="523.80" x2="181.85" y2="521.20" stroke="#404040" stroke-width="1.40"/>
<line x1="228.70" y1="523.80" x2="228.70" y2="519.30" stroke="#404040" stroke-width="1.40"/>
<text x="228.70" y="542.80" font-size="17.50" text-anchor="middle">465</text>
<line x1="275.55" y1="523.80" x2="275.55" y2="521.20" stroke="#404040" stroke-width="1.40"/>
<text x="322.40" y="542.80" font-size="17.50" text-anchor="middle">470</text>
<text x="48.40" y="327.70" font-size="17.80" text-anchor="start">Ti <tspan font-style="italic" dx="1.1">L</tspan>-edge</text>
<text x="70.60" y="357.30" font-size="17.80"><tspan font-style="italic">t</tspan><tspan font-size="13.00" dy="4.90">2g</tspan></text>
<text x="132.20" y="343.80" font-size="17.80"><tspan font-style="italic">e</tspan><tspan font-size="13.00" dy="4.30">g</tspan></text>
<text x="178.60" y="346.70" font-size="17.80"><tspan font-style="italic">t</tspan><tspan font-size="13.00" dy="4.90">2g</tspan></text>
<text x="236.50" y="324.40" font-size="17.80"><tspan font-style="italic">e</tspan><tspan font-size="13.00" dy="4.30">g</tspan></text>
<text x="110.0" y="450.0" font-size="20"><tspan font-style="italic">L</tspan><tspan font-size="16" dy="5">3</tspan></text>
<text x="208.0" y="420.0" font-size="20"><tspan font-style="italic">L</tspan><tspan font-size="16" dy="5">2</tspan></text>
<text x="181.85" y="573.70" font-size="20.20" text-anchor="middle">Photon Energy (eV)</text>
<text x="0" y="0" font-size="20.20" text-anchor="middle" transform="translate(27.60,414.65) rotate(-90)">Intensity (a.u.)</text>
<text x="-1.50" y="316.90" font-size="24.00" text-anchor="start">(c)</text>
<g fill="#464646"><circle cx="391.7" cy="495.2" r="2.2"/><circle cx="400.0" cy="495.2" r="2.2"/><circle cx="404.9" cy="496.9" r="2.2"/><circle cx="411.0" cy="495.0" r="2.2"/><circle cx="418.7" cy="496.9" r="2.2"/><circle cx="426.0" cy="502.8" r="2.2"/><circle cx="431.2" cy="495.0" r="2.2"/><circle cx="434.4" cy="504.5" r="2.2"/><circle cx="437.9" cy="506.6" r="2.2"/><circle cx="441.2" cy="496.7" r="2.2"/><circle cx="444.4" cy="497.5" r="2.2"/><circle cx="448.2" cy="507.1" r="2.2"/><circle cx="451.1" cy="499.9" r="2.2"/><circle cx="458.1" cy="497.0" r="2.2"/><circle cx="461.6" cy="487.0" r="2.2"/><circle cx="466.6" cy="489.2" r="2.2"/><circle cx="464.9" cy="480.1" r="2.2"/><circle cx="468.0" cy="470.1" r="2.2"/><circle cx="471.8" cy="456.5" r="2.2"/><circle cx="478.3" cy="439.9" r="2.2"/><circle cx="480.5" cy="420.0" r="2.2"/><circle cx="480.4" cy="398.8" r="2.2"/><circle cx="482.5" cy="378.9" r="2.2"/><circle cx="484.4" cy="362.0" r="2.2"/><circle cx="490.9" cy="351.5" r="2.2"/><circle cx="492.0" cy="345.0" r="2.2"/><circle cx="494.5" cy="347.8" r="2.2"/><circle cx="500.8" cy="352.8" r="2.2"/><circle cx="502.3" cy="363.0" r="2.2"/><circle cx="506.5" cy="373.1" r="2.2"/><circle cx="509.1" cy="382.1" r="2.2"/><circle cx="508.2" cy="389.9" r="2.2"/><circle cx="512.4" cy="389.3" r="2.2"/><circle cx="514.1" cy="388.7" r="2.2"/><circle cx="515.4" cy="383.2" r="2.2"/><circle cx="522.1" cy="377.1" r="2.2"/><circle cx="525.1" cy="368.1" r="2.2"/><circle cx="525.0" cy="358.0" r="2.2"/><circle cx="530.5" cy="350.4" r="2.2"/><circle cx="530.1" cy="341.8" r="2.2"/><circle cx="535.6" cy="337.8" r="2.2"/><circle cx="539.1" cy="335.7" r="2.2"/><circle cx="540.6" cy="334.7" r="2.2"/><circle cx="544.1" cy="331.6" r="2.2"/><circle cx="546.8" cy="335.0" r="2.2"/><circle cx="551.1" cy="338.4" r="2.2"/><circle cx="549.4" cy="346.1" r="2.2"/><circle cx="556.2" cy="350.6" r="2.2"/><circle cx="555.7" cy="358.9" r="2.2"/><circle cx="561.7" cy="365.2" r="2.2"/><circle cx="564.8" cy="373.0" r="2.2"/><circle cx="566.7" cy="381.3" r="2.2"/><circle cx="571.0" cy="388.9" r="2.2"/><circle cx="569.8" cy="398.4" r="2.2"/><circle cx="571.6" cy="406.8" r="2.2"/><circle cx="574.7" cy="414.7" r="2.2"/><circle cx="581.6" cy="421.0" r="2.2"/><circle cx="580.1" cy="430.2" r="2.2"/><circle cx="586.9" cy="436.1" r="2.2"/><circle cx="589.3" cy="443.3" r="2.2"/><circle cx="588.5" cy="451.5" r="2.2"/><circle cx="592.5" cy="457.3" r="2.2"/><circle cx="596.5" cy="471.3" r="2.2"/><circle cx="603.3" cy="475.4" r="2.2"/><circle cx="605.6" cy="485.0" r="2.2"/><circle cx="611.4" cy="486.2" r="2.2"/><circle cx="617.0" cy="486.2" r="2.2"/><circle cx="624.3" cy="491.6" r="2.2"/><circle cx="629.5" cy="498.9" r="2.2"/><circle cx="636.8" cy="503.9" r="2.2"/><circle cx="642.0" cy="495.6" r="2.2"/><circle cx="649.2" cy="494.1" r="2.2"/><circle cx="655.0" cy="500.0" r="2.2"/><circle cx="661.8" cy="496.3" r="2.2"/><circle cx="669.0" cy="497.0" r="2.2"/></g>
<path d="M389.30,499.60 L389.30,499.60 L389.80,499.60 L390.30,499.60 L390.80,499.60 L391.30,499.60 L391.80,499.60 L392.30,499.60 L392.80,499.60 L393.30,499.60 L393.80,499.60 L394.30,499.60 L394.80,499.60 L395.30,499.60 L395.80,499.60 L396.30,499.60 L396.80,499.60 L397.30,499.60 L397.80,499.60 L398.30,499.60 L398.80,499.60 L399.30,499.60 L399.80,499.60 L400.30,499.60 L400.80,499.60 L401.30,499.60 L401.80,499.60 L402.30,499.60 L402.80,499.60 L403.30,499.60 L403.80,499.60 L404.30,499.60 L404.80,499.60 L405.30,499.60 L405.80,499.60 L406.30,499.60 L406.80,499.60 L407.30,499.60 L407.80,499.60 L408.30,499.60 L408.80,499.60 L409.30,499.60 L409.80,499.60 L410.30,499.60 L410.80,499.60 L411.30,499.60 L411.80,499.60 L412.30,499.60 L412.80,499.60 L413.30,499.60 L413.80,499.60 L414.30,499.60 L414.80,499.60 L415.30,499.60 L415.80,499.60 L416.30,499.60 L416.80,499.60 L417.30,499.60 L417.80,499.60 L418.30,499.60 L418.80,499.60 L419.30,499.60 L419.80,499.60 L420.30,499.60 L420.80,499.60 L421.30,499.60 L421.80,499.60 L422.30,499.60 L422.80,499.60 L423.30,499.60 L423.80,499.60 L424.30,499.60 L424.80,499.60 L425.30,499.60 L425.80,499.60 L426.30,499.60 L426.80,499.60 L427.30,499.60 L427.80,499.60 L428.30,499.60 L428.80,499.60 L429.30,499.60 L429.80,499.60 L430.30,499.60 L430.80,499.60 L431.30,499.60 L431.80,499.60 L432.30,499.60 L432.80,499.60 L433.30,499.60 L433.80,499.60 L434.30,499.60 L434.80,499.60 L435.30,499.60 L435.80,499.60 L436.30,499.60 L436.80,499.60 L437.30,499.60 L437.80,499.59 L438.30,499.59 L438.80,499.59 L439.30,499.59 L439.80,499.59 L440.30,499.59 L440.80,499.58 L441.30,499.58 L441.80,499.57 L442.30,499.57 L442.80,499.56 L443.30,499.56 L443.80,499.55 L444.30,499.54 L444.80,499.53 L445.30,499.52 L445.80,499.51 L446.30,499.49 L446.80,499.47 L447.30,499.45 L447.80,499.42 L448.30,499.40 L448.80,499.36 L449.30,499.32 L449.80,499.28 L450.30,499.23 L450.80,499.18 L451.30,499.11 L451.80,499.04 L452.30,498.96 L452.80,498.86 L453.30,498.76 L453.80,498.64 L454.30,498.50 L454.80,498.35 L455.30,498.18 L455.80,497.99 L456.30,497.78 L456.80,497.55 L457.30,497.29 L457.80,497.00 L458.30,496.67 L458.80,496.32 L459.30,495.93 L459.80,495.49 L460.30,495.02 L460.80,494.50 L461.30,493.93 L461.80,493.30 L462.30,492.62 L462.80,491.88 L463.30,491.08 L463.80,490.21 L464.30,489.26 L464.80,488.24 L465.30,487.15 L465.80,485.97 L466.30,484.70 L466.80,483.35 L467.30,481.90 L467.80,480.36 L468.30,478.72 L468.80,476.98 L469.30,475.14 L469.80,473.20 L470.30,471.15 L470.80,468.99 L471.30,466.72 L471.80,464.35 L472.30,461.88 L472.80,459.30 L473.30,456.62 L473.80,453.84 L474.30,450.96 L474.80,447.99 L475.30,444.94 L475.80,441.81 L476.30,438.60 L476.80,435.33 L477.30,432.00 L477.80,428.62 L478.30,425.20 L478.80,421.75 L479.30,418.29 L479.80,414.81 L480.30,411.34 L480.80,407.89 L481.30,404.47 L481.80,401.09 L482.30,397.77 L482.80,394.52 L483.30,391.35 L483.80,388.28 L484.30,385.33 L484.80,382.50 L485.30,379.80 L485.80,377.26 L486.30,374.88 L486.80,372.67 L487.30,370.65 L487.80,368.82 L488.30,367.20 L488.80,365.79 L489.30,364.60 L489.80,363.64 L490.30,362.90 L490.80,362.41 L491.30,362.14 L491.80,362.12 L492.30,362.33 L492.80,362.79 L493.30,363.47 L493.80,364.39 L494.30,365.54 L494.80,366.90 L495.30,368.48 L495.80,370.27 L496.30,372.25 L496.80,374.42 L497.30,376.77 L497.80,379.28 L498.30,381.95 L498.80,384.75 L499.30,387.68 L499.80,390.73 L500.30,393.88 L500.80,397.11 L501.30,400.42 L501.80,403.79 L502.30,407.20 L502.80,410.65 L503.30,414.12 L503.80,417.59 L504.30,421.06 L504.80,424.51 L505.30,427.94 L505.80,431.33 L506.30,434.67 L506.80,437.95 L507.30,441.17 L507.80,444.32 L508.30,447.39 L508.80,450.37 L509.30,453.27 L509.80,456.07 L510.30,458.77 L510.80,461.37 L511.30,463.87 L511.80,466.26 L512.30,468.54 L512.80,470.72 L513.30,472.79 L513.80,474.76 L514.30,476.62 L514.80,478.38 L515.30,480.04 L515.80,481.60 L516.30,483.07 L516.80,484.44 L517.30,485.72 L517.80,486.92 L518.30,488.03 L518.80,489.06 L519.30,490.02 L519.80,490.91 L520.30,491.73 L520.80,492.48 L521.30,493.17 L521.80,493.81 L522.30,494.39 L522.80,494.92 L523.30,495.40 L523.80,495.84 L524.30,496.24 L524.80,496.61 L525.30,496.93 L525.80,497.23 L526.30,497.50 L526.80,497.74 L527.30,497.95 L527.80,498.15 L528.30,498.32 L528.80,498.47 L529.30,498.61 L529.80,498.73 L530.30,498.84 L530.80,498.94 L531.30,499.02 L531.80,499.10 L532.30,499.16 L532.80,499.22 L533.30,499.27 L533.80,499.32 L534.30,499.36 L534.80,499.39 L535.30,499.42 L535.80,499.44 L536.30,499.47 L536.80,499.49 L537.30,499.50 L537.80,499.52 L538.30,499.53 L538.80,499.54 L539.30,499.55 L539.80,499.56 L540.30,499.56 L540.80,499.57 L541.30,499.57 L541.80,499.58 L542.30,499.58 L542.80,499.58 L543.30,499.59 L543.80,499.59 L544.30,499.59 L544.80,499.59 L545.30,499.59 L545.80,499.59 L546.30,499.60 L546.80,499.60 L547.30,499.60 L547.80,499.60 L548.30,499.60 L548.80,499.60 L549.30,499.60 L549.80,499.60 L550.30,499.60 L550.80,499.60 L551.30,499.60 L551.80,499.60 L552.30,499.60 L552.80,499.60 L553.30,499.60 L553.80,499.60 L554.30,499.60 L554.80,499.60 L555.30,499.60 L555.80,499.60 L556.30,499.60 L556.80,499.60 L557.30,499.60 L557.80,499.60 L558.30,499.60 L558.80,499.60 L559.30,499.60 L559.80,499.60 L560.30,499.60 L560.80,499.60 L561.30,499.60 L561.80,499.60 L562.30,499.60 L562.80,499.60 L563.30,499.60 L563.80,499.60 L564.30,499.60 L564.80,499.60 L565.30,499.60 L565.80,499.60 L566.30,499.60 L566.80,499.60 L567.30,499.60 L567.80,499.60 L568.30,499.60 L568.80,499.60 L569.30,499.60 L569.80,499.60 L570.30,499.60 L570.80,499.60 L571.30,499.60 L571.80,499.60 L572.30,499.60 L572.80,499.60 L573.30,499.60 L573.80,499.60 L574.30,499.60 L574.80,499.60 L575.30,499.60 L575.80,499.60 L576.30,499.60 L576.80,499.60 L577.30,499.60 L577.80,499.60 L578.30,499.60 L578.80,499.60 L579.30,499.60 L579.80,499.60 L580.30,499.60 L580.80,499.60 L581.30,499.60 L581.80,499.60 L582.30,499.60 L582.80,499.60 L583.30,499.60 L583.80,499.60 L584.30,499.60 L584.80,499.60 L585.30,499.60 L585.80,499.60 L586.30,499.60 L586.80,499.60 L587.30,499.60 L587.80,499.60 L588.30,499.60 L588.80,499.60 L589.30,499.60 L589.80,499.60 L590.30,499.60 L590.80,499.60 L591.30,499.60 L591.80,499.60 L592.30,499.60 L592.80,499.60 L593.30,499.60 L593.80,499.60 L594.30,499.60 L594.80,499.60 L595.30,499.60 L595.80,499.60 L596.30,499.60 L596.80,499.60 L597.30,499.60 L597.80,499.60 L598.30,499.60 L598.80,499.60 L599.30,499.60 L599.80,499.60 L600.30,499.60 L600.80,499.60 L601.30,499.60 L601.80,499.60 L602.30,499.60 L602.80,499.60 L603.30,499.60 L603.80,499.60 L604.30,499.60 L604.80,499.60 L605.30,499.60 L605.80,499.60 L606.30,499.60 L606.80,499.60 L607.30,499.60 L607.80,499.60 L608.30,499.60 L608.80,499.60 L609.30,499.60 L609.80,499.60 L610.30,499.60 L610.80,499.60 L611.30,499.60 L611.80,499.60 L612.30,499.60 L612.80,499.60 L613.30,499.60 L613.80,499.60 L614.30,499.60 L614.80,499.60 L615.30,499.60 L615.80,499.60 L616.30,499.60 L616.80,499.60 L617.30,499.60 L617.80,499.60 L618.30,499.60 L618.80,499.60 L619.30,499.60 L619.80,499.60 L620.30,499.60 L620.80,499.60 L621.30,499.60 L621.80,499.60 L622.30,499.60 L622.80,499.60 L623.30,499.60 L623.80,499.60 L624.30,499.60 L624.80,499.60 L625.30,499.60 L625.80,499.60 L626.30,499.60 L626.80,499.60 L627.30,499.60 L627.80,499.60 L628.30,499.60 L628.80,499.60 L629.30,499.60 L629.80,499.60 L630.30,499.60 L630.80,499.60 L631.30,499.60 L631.80,499.60 L632.30,499.60 L632.80,499.60 L633.30,499.60 L633.80,499.60 L634.30,499.60 L634.80,499.60 L635.30,499.60 L635.80,499.60 L636.30,499.60 L636.80,499.60 L637.30,499.60 L637.80,499.60 L638.30,499.60 L638.80,499.60 L639.30,499.60 L639.80,499.60 L640.30,499.60 L640.80,499.60 L641.30,499.60 L641.80,499.60 L642.30,499.60 L642.80,499.60 L643.30,499.60 L643.80,499.60 L644.30,499.60 L644.80,499.60 L645.30,499.60 L645.80,499.60 L646.30,499.60 L646.80,499.60 L647.30,499.60 L647.80,499.60 L648.30,499.60 L648.80,499.60 L649.30,499.60 L649.80,499.60 L650.30,499.60 L650.80,499.60 L651.30,499.60 L651.80,499.60 L652.30,499.60 L652.80,499.60 L653.30,499.60 L653.80,499.60 L654.30,499.60 L654.80,499.60 L655.30,499.60 L655.80,499.60 L656.30,499.60 L656.80,499.60 L657.30,499.60 L657.80,499.60 L658.30,499.60 L658.80,499.60 L659.30,499.60 L659.80,499.60 L660.30,499.60 L660.80,499.60 L661.30,499.60 L661.80,499.60 L662.30,499.60 L662.80,499.60 L663.30,499.60 L663.80,499.60 L664.30,499.60 L664.80,499.60 L665.30,499.60 L665.80,499.60 L666.30,499.60 L666.80,499.60 L667.30,499.60 L667.80,499.60 L668.30,499.60 L668.80,499.60 L669.30,499.60 L669.80,499.60 L670.30,499.60 L670.30,499.60 Z" fill="rgb(53,130,225)" fill-opacity="0.57"/>
<path d="M389.30,499.60 L389.30,499.60 L389.80,499.60 L390.30,499.60 L390.80,499.60 L391.30,499.60 L391.80,499.60 L392.30,499.60 L392.80,499.60 L393.30,499.60 L393.80,499.60 L394.30,499.60 L394.80,499.60 L395.30,499.60 L395.80,499.60 L396.30,499.60 L396.80,499.60 L397.30,499.60 L397.80,499.60 L398.30,499.60 L398.80,499.60 L399.30,499.60 L399.80,499.60 L400.30,499.60 L400.80,499.60 L401.30,499.60 L401.80,499.60 L402.30,499.60 L402.80,499.60 L403.30,499.60 L403.80,499.60 L404.30,499.60 L404.80,499.60 L405.30,499.60 L405.80,499.60 L406.30,499.60 L406.80,499.60 L407.30,499.60 L407.80,499.60 L408.30,499.60 L408.80,499.60 L409.30,499.60 L409.80,499.60 L410.30,499.60 L410.80,499.60 L411.30,499.60 L411.80,499.60 L412.30,499.60 L412.80,499.60 L413.30,499.60 L413.80,499.60 L414.30,499.60 L414.80,499.60 L415.30,499.60 L415.80,499.60 L416.30,499.60 L416.80,499.60 L417.30,499.60 L417.80,499.60 L418.30,499.60 L418.80,499.60 L419.30,499.60 L419.80,499.60 L420.30,499.60 L420.80,499.60 L421.30,499.60 L421.80,499.60 L422.30,499.60 L422.80,499.60 L423.30,499.60 L423.80,499.60 L424.30,499.60 L424.80,499.60 L425.30,499.60 L425.80,499.60 L426.30,499.60 L426.80,499.60 L427.30,499.60 L427.80,499.60 L428.30,499.60 L428.80,499.60 L429.30,499.60 L429.80,499.60 L430.30,499.60 L430.80,499.60 L431.30,499.60 L431.80,499.60 L432.30,499.60 L432.80,499.60 L433.30,499.60 L433.80,499.60 L434.30,499.60 L434.80,499.60 L435.30,499.60 L435.80,499.60 L436.30,499.60 L436.80,499.60 L437.30,499.60 L437.80,499.60 L438.30,499.60 L438.80,499.60 L439.30,499.60 L439.80,499.60 L440.30,499.60 L440.80,499.60 L441.30,499.60 L441.80,499.60 L442.30,499.60 L442.80,499.60 L443.30,499.60 L443.80,499.60 L444.30,499.60 L444.80,499.60 L445.30,499.60 L445.80,499.60 L446.30,499.60 L446.80,499.60 L447.30,499.60 L447.80,499.60 L448.30,499.60 L448.80,499.60 L449.30,499.60 L449.80,499.60 L450.30,499.60 L450.80,499.60 L451.30,499.60 L451.80,499.60 L452.30,499.59 L452.80,499.59 L453.30,499.59 L453.80,499.59 L454.30,499.59 L454.80,499.59 L455.30,499.59 L455.80,499.59 L456.30,499.59 L456.80,499.58 L457.30,499.58 L457.80,499.58 L458.30,499.58 L458.80,499.58 L459.30,499.57 L459.80,499.57 L460.30,499.57 L460.80,499.56 L461.30,499.56 L461.80,499.55 L462.30,499.55 L462.80,499.54 L463.30,499.54 L463.80,499.53 L464.30,499.52 L464.80,499.51 L465.30,499.50 L465.80,499.49 L466.30,499.48 L466.80,499.47 L467.30,499.46 L467.80,499.44 L468.30,499.43 L468.80,499.41 L469.30,499.39 L469.80,499.37 L470.30,499.35 L470.80,499.33 L471.30,499.30 L471.80,499.27 L472.30,499.24 L472.80,499.21 L473.30,499.17 L473.80,499.13 L474.30,499.09 L474.80,499.04 L475.30,498.99 L475.80,498.94 L476.30,498.88 L476.80,498.82 L477.30,498.75 L477.80,498.68 L478.30,498.60 L478.80,498.52 L479.30,498.43 L479.80,498.34 L480.30,498.23 L480.80,498.12 L481.30,498.01 L481.80,497.88 L482.30,497.75 L482.80,497.60 L483.30,497.45 L483.80,497.29 L484.30,497.12 L484.80,496.93 L485.30,496.74 L485.80,496.53 L486.30,496.31 L486.80,496.08 L487.30,495.84 L487.80,495.58 L488.30,495.30 L488.80,495.01 L489.30,494.70 L489.80,494.38 L490.30,494.04 L490.80,493.68 L491.30,493.31 L491.80,492.91 L492.30,492.50 L492.80,492.07 L493.30,491.61 L493.80,491.13 L494.30,490.64 L494.80,490.12 L495.30,489.58 L495.80,489.01 L496.30,488.42 L496.80,487.81 L497.30,487.17 L497.80,486.51 L498.30,485.82 L498.80,485.11 L499.30,484.37 L499.80,483.61 L500.30,482.82 L500.80,482.01 L501.30,481.17 L501.80,480.30 L502.30,479.41 L502.80,478.49 L503.30,477.55 L503.80,476.58 L504.30,475.59 L504.80,474.57 L505.30,473.54 L505.80,472.47 L506.30,471.39 L506.80,470.28 L507.30,469.16 L507.80,468.01 L508.30,466.85 L508.80,465.66 L509.30,464.47 L509.80,463.25 L510.30,462.02 L510.80,460.78 L511.30,459.53 L511.80,458.27 L512.30,457.00 L512.80,455.73 L513.30,454.45 L513.80,453.17 L514.30,451.88 L514.80,450.60 L515.30,449.33 L515.80,448.05 L516.30,446.79 L516.80,445.53 L517.30,444.28 L517.80,443.05 L518.30,441.84 L518.80,440.64 L519.30,439.46 L519.80,438.30 L520.30,437.17 L520.80,436.07 L521.30,434.99 L521.80,433.95 L522.30,432.93 L522.80,431.96 L523.30,431.02 L523.80,430.11 L524.30,429.25 L524.80,428.43 L525.30,427.66 L525.80,426.93 L526.30,426.25 L526.80,425.62 L527.30,425.04 L527.80,424.51 L528.30,424.03 L528.80,423.60 L529.30,423.23 L529.80,422.92 L530.30,422.66 L530.80,422.46 L531.30,422.32 L531.80,422.23 L532.30,422.20 L532.80,422.23 L533.30,422.32 L533.80,422.46 L534.30,422.66 L534.80,422.92 L535.30,423.23 L535.80,423.60 L536.30,424.03 L536.80,424.51 L537.30,425.04 L537.80,425.62 L538.30,426.25 L538.80,426.93 L539.30,427.66 L539.80,428.43 L540.30,429.25 L540.80,430.11 L541.30,431.02 L541.80,431.96 L542.30,432.93 L542.80,433.95 L543.30,434.99 L543.80,436.07 L544.30,437.17 L544.80,438.30 L545.30,439.46 L545.80,440.64 L546.30,441.84 L546.80,443.05 L547.30,444.28 L547.80,445.53 L548.30,446.79 L548.80,448.05 L549.30,449.33 L549.80,450.60 L550.30,451.88 L550.80,453.17 L551.30,454.45 L551.80,455.73 L552.30,457.00 L552.80,458.27 L553.30,459.53 L553.80,460.78 L554.30,462.02 L554.80,463.25 L555.30,464.47 L555.80,465.66 L556.30,466.85 L556.80,468.01 L557.30,469.16 L557.80,470.28 L558.30,471.39 L558.80,472.47 L559.30,473.54 L559.80,474.57 L560.30,475.59 L560.80,476.58 L561.30,477.55 L561.80,478.49 L562.30,479.41 L562.80,480.30 L563.30,481.17 L563.80,482.01 L564.30,482.82 L564.80,483.61 L565.30,484.37 L565.80,485.11 L566.30,485.82 L566.80,486.51 L567.30,487.17 L567.80,487.81 L568.30,488.42 L568.80,489.01 L569.30,489.58 L569.80,490.12 L570.30,490.64 L570.80,491.13 L571.30,491.61 L571.80,492.07 L572.30,492.50 L572.80,492.91 L573.30,493.31 L573.80,493.68 L574.30,494.04 L574.80,494.38 L575.30,494.70 L575.80,495.01 L576.30,495.30 L576.80,495.58 L577.30,495.84 L577.80,496.08 L578.30,496.31 L578.80,496.53 L579.30,496.74 L579.80,496.93 L580.30,497.12 L580.80,497.29 L581.30,497.45 L581.80,497.60 L582.30,497.75 L582.80,497.88 L583.30,498.01 L583.80,498.12 L584.30,498.23 L584.80,498.34 L585.30,498.43 L585.80,498.52 L586.30,498.60 L586.80,498.68 L587.30,498.75 L587.80,498.82 L588.30,498.88 L588.80,498.94 L589.30,498.99 L589.80,499.04 L590.30,499.09 L590.80,499.13 L591.30,499.17 L591.80,499.21 L592.30,499.24 L592.80,499.27 L593.30,499.30 L593.80,499.33 L594.30,499.35 L594.80,499.37 L595.30,499.39 L595.80,499.41 L596.30,499.43 L596.80,499.44 L597.30,499.46 L597.80,499.47 L598.30,499.48 L598.80,499.49 L599.30,499.50 L599.80,499.51 L600.30,499.52 L600.80,499.53 L601.30,499.54 L601.80,499.54 L602.30,499.55 L602.80,499.55 L603.30,499.56 L603.80,499.56 L604.30,499.57 L604.80,499.57 L605.30,499.57 L605.80,499.58 L606.30,499.58 L606.80,499.58 L607.30,499.58 L607.80,499.58 L608.30,499.59 L608.80,499.59 L609.30,499.59 L609.80,499.59 L610.30,499.59 L610.80,499.59 L611.30,499.59 L611.80,499.59 L612.30,499.59 L612.80,499.60 L613.30,499.60 L613.80,499.60 L614.30,499.60 L614.80,499.60 L615.30,499.60 L615.80,499.60 L616.30,499.60 L616.80,499.60 L617.30,499.60 L617.80,499.60 L618.30,499.60 L618.80,499.60 L619.30,499.60 L619.80,499.60 L620.30,499.60 L620.80,499.60 L621.30,499.60 L621.80,499.60 L622.30,499.60 L622.80,499.60 L623.30,499.60 L623.80,499.60 L624.30,499.60 L624.80,499.60 L625.30,499.60 L625.80,499.60 L626.30,499.60 L626.80,499.60 L627.30,499.60 L627.80,499.60 L628.30,499.60 L628.80,499.60 L629.30,499.60 L629.80,499.60 L630.30,499.60 L630.80,499.60 L631.30,499.60 L631.80,499.60 L632.30,499.60 L632.80,499.60 L633.30,499.60 L633.80,499.60 L634.30,499.60 L634.80,499.60 L635.30,499.60 L635.80,499.60 L636.30,499.60 L636.80,499.60 L637.30,499.60 L637.80,499.60 L638.30,499.60 L638.80,499.60 L639.30,499.60 L639.80,499.60 L640.30,499.60 L640.80,499.60 L641.30,499.60 L641.80,499.60 L642.30,499.60 L642.80,499.60 L643.30,499.60 L643.80,499.60 L644.30,499.60 L644.80,499.60 L645.30,499.60 L645.80,499.60 L646.30,499.60 L646.80,499.60 L647.30,499.60 L647.80,499.60 L648.30,499.60 L648.80,499.60 L649.30,499.60 L649.80,499.60 L650.30,499.60 L650.80,499.60 L651.30,499.60 L651.80,499.60 L652.30,499.60 L652.80,499.60 L653.30,499.60 L653.80,499.60 L654.30,499.60 L654.80,499.60 L655.30,499.60 L655.80,499.60 L656.30,499.60 L656.80,499.60 L657.30,499.60 L657.80,499.60 L658.30,499.60 L658.80,499.60 L659.30,499.60 L659.80,499.60 L660.30,499.60 L660.80,499.60 L661.30,499.60 L661.80,499.60 L662.30,499.60 L662.80,499.60 L663.30,499.60 L663.80,499.60 L664.30,499.60 L664.80,499.60 L665.30,499.60 L665.80,499.60 L666.30,499.60 L666.80,499.60 L667.30,499.60 L667.80,499.60 L668.30,499.60 L668.80,499.60 L669.30,499.60 L669.80,499.60 L670.30,499.60 L670.30,499.60 Z" fill="rgb(71,180,120)" fill-opacity="0.57"/>
<path d="M389.30,499.60 L389.30,499.60 L389.80,499.60 L390.30,499.60 L390.80,499.60 L391.30,499.60 L391.80,499.60 L392.30,499.60 L392.80,499.60 L393.30,499.60 L393.80,499.60 L394.30,499.60 L394.80,499.60 L395.30,499.60 L395.80,499.60 L396.30,499.60 L396.80,499.60 L397.30,499.60 L397.80,499.60 L398.30,499.60 L398.80,499.60 L399.30,499.60 L399.80,499.60 L400.30,499.60 L400.80,499.60 L401.30,499.60 L401.80,499.60 L402.30,499.60 L402.80,499.60 L403.30,499.60 L403.80,499.60 L404.30,499.60 L404.80,499.60 L405.30,499.60 L405.80,499.60 L406.30,499.60 L406.80,499.60 L407.30,499.60 L407.80,499.60 L408.30,499.60 L408.80,499.60 L409.30,499.60 L409.80,499.60 L410.30,499.60 L410.80,499.60 L411.30,499.60 L411.80,499.60 L412.30,499.60 L412.80,499.60 L413.30,499.60 L413.80,499.60 L414.30,499.60 L414.80,499.60 L415.30,499.60 L415.80,499.60 L416.30,499.60 L416.80,499.60 L417.30,499.60 L417.80,499.60 L418.30,499.60 L418.80,499.60 L419.30,499.60 L419.80,499.60 L420.30,499.60 L420.80,499.60 L421.30,499.60 L421.80,499.60 L422.30,499.60 L422.80,499.60 L423.30,499.60 L423.80,499.60 L424.30,499.60 L424.80,499.60 L425.30,499.60 L425.80,499.60 L426.30,499.60 L426.80,499.60 L427.30,499.60 L427.80,499.60 L428.30,499.60 L428.80,499.60 L429.30,499.60 L429.80,499.59 L430.30,499.59 L430.80,499.59 L431.30,499.59 L431.80,499.59 L432.30,499.59 L432.80,499.59 L433.30,499.59 L433.80,499.59 L434.30,499.59 L434.80,499.59 L435.30,499.59 L435.80,499.59 L436.30,499.59 L436.80,499.59 L437.30,499.58 L437.80,499.58 L438.30,499.58 L438.80,499.58 L439.30,499.58 L439.80,499.58 L440.30,499.57 L440.80,499.57 L441.30,499.57 L441.80,499.57 L442.30,499.57 L442.80,499.56 L443.30,499.56 L443.80,499.56 L444.30,499.56 L444.80,499.55 L445.30,499.55 L445.80,499.54 L446.30,499.54 L446.80,499.54 L447.30,499.53 L447.80,499.53 L448.30,499.52 L448.80,499.52 L449.30,499.51 L449.80,499.50 L450.30,499.50 L450.80,499.49 L451.30,499.48 L451.80,499.48 L452.30,499.47 L452.80,499.46 L453.30,499.45 L453.80,499.44 L454.30,499.43 L454.80,499.42 L455.30,499.40 L455.80,499.39 L456.30,499.38 L456.80,499.36 L457.30,499.35 L457.80,499.33 L458.30,499.31 L458.80,499.30 L459.30,499.28 L459.80,499.26 L460.30,499.24 L460.80,499.21 L461.30,499.19 L461.80,499.16 L462.30,499.14 L462.80,499.11 L463.30,499.08 L463.80,499.05 L464.30,499.02 L464.80,498.98 L465.30,498.94 L465.80,498.91 L466.30,498.87 L466.80,498.82 L467.30,498.78 L467.80,498.73 L468.30,498.68 L468.80,498.63 L469.30,498.57 L469.80,498.52 L470.30,498.46 L470.80,498.39 L471.30,498.33 L471.80,498.26 L472.30,498.18 L472.80,498.11 L473.30,498.03 L473.80,497.94 L474.30,497.86 L474.80,497.76 L475.30,497.67 L475.80,497.57 L476.30,497.46 L476.80,497.35 L477.30,497.24 L477.80,497.12 L478.30,496.99 L478.80,496.86 L479.30,496.73 L479.80,496.59 L480.30,496.44 L480.80,496.29 L481.30,496.13 L481.80,495.96 L482.30,495.79 L482.80,495.61 L483.30,495.42 L483.80,495.22 L484.30,495.02 L484.80,494.81 L485.30,494.59 L485.80,494.36 L486.30,494.13 L486.80,493.88 L487.30,493.63 L487.80,493.37 L488.30,493.10 L488.80,492.82 L489.30,492.52 L489.80,492.22 L490.30,491.91 L490.80,491.59 L491.30,491.25 L491.80,490.91 L492.30,490.55 L492.80,490.19 L493.30,489.81 L493.80,489.42 L494.30,489.01 L494.80,488.60 L495.30,488.17 L495.80,487.73 L496.30,487.27 L496.80,486.80 L497.30,486.32 L497.80,485.82 L498.30,485.31 L498.80,484.79 L499.30,484.25 L499.80,483.70 L500.30,483.13 L500.80,482.55 L501.30,481.96 L501.80,481.34 L502.30,480.72 L502.80,480.07 L503.30,479.42 L503.80,478.74 L504.30,478.05 L504.80,477.35 L505.30,476.63 L505.80,475.89 L506.30,475.14 L506.80,474.37 L507.30,473.59 L507.80,472.79 L508.30,471.98 L508.80,471.15 L509.30,470.30 L509.80,469.44 L510.30,468.56 L510.80,467.67 L511.30,466.76 L511.80,465.84 L512.30,464.90 L512.80,463.95 L513.30,462.98 L513.80,462.00 L514.30,461.01 L514.80,460.00 L515.30,458.98 L515.80,457.94 L516.30,456.89 L516.80,455.83 L517.30,454.76 L517.80,453.68 L518.30,452.58 L518.80,451.48 L519.30,450.36 L519.80,449.23 L520.30,448.10 L520.80,446.95 L521.30,445.80 L521.80,444.64 L522.30,443.47 L522.80,442.30 L523.30,441.12 L523.80,439.94 L524.30,438.75 L524.80,437.55 L525.30,436.36 L525.80,435.16 L526.30,433.96 L526.80,432.76 L527.30,431.55 L527.80,430.35 L528.30,429.15 L528.80,427.95 L529.30,426.76 L529.80,425.57 L530.30,424.38 L530.80,423.20 L531.30,422.02 L531.80,420.85 L532.30,419.69 L532.80,418.54 L533.30,417.39 L533.80,416.26 L534.30,415.14 L534.80,414.03 L535.30,412.94 L535.80,411.86 L536.30,410.79 L536.80,409.74 L537.30,408.70 L537.80,407.69 L538.30,406.69 L538.80,405.71 L539.30,404.75 L539.80,403.81 L540.30,402.89 L540.80,401.99 L541.30,401.12 L541.80,400.27 L542.30,399.45 L542.80,398.65 L543.30,397.88 L543.80,397.13 L544.30,396.42 L544.80,395.73 L545.30,395.06 L545.80,394.43 L546.30,393.83 L546.80,393.26 L547.30,392.72 L547.80,392.21 L548.30,391.73 L548.80,391.29 L549.30,390.88 L549.80,390.50 L550.30,390.15 L550.80,389.84 L551.30,389.56 L551.80,389.32 L552.30,389.11 L552.80,388.94 L553.30,388.80 L553.80,388.70 L554.30,388.63 L554.80,388.60 L555.30,388.61 L555.80,388.65 L556.30,388.72 L556.80,388.83 L557.30,388.97 L557.80,389.15 L558.30,389.37 L558.80,389.62 L559.30,389.90 L559.80,390.22 L560.30,390.57 L560.80,390.96 L561.30,391.37 L561.80,391.83 L562.30,392.31 L562.80,392.82 L563.30,393.37 L563.80,393.95 L564.30,394.56 L564.80,395.19 L565.30,395.86 L565.80,396.56 L566.30,397.28 L566.80,398.03 L567.30,398.81 L567.80,399.61 L568.30,400.44 L568.80,401.29 L569.30,402.17 L569.80,403.07 L570.30,403.99 L570.80,404.94 L571.30,405.90 L571.80,406.89 L572.30,407.89 L572.80,408.91 L573.30,409.95 L573.80,411.00 L574.30,412.07 L574.80,413.16 L575.30,414.25 L575.80,415.36 L576.30,416.49 L576.80,417.62 L577.30,418.77 L577.80,419.92 L578.30,421.08 L578.80,422.25 L579.30,423.43 L579.80,424.62 L580.30,425.80 L580.80,427.00 L581.30,428.19 L581.80,429.39 L582.30,430.59 L582.80,431.79 L583.30,433.00 L583.80,434.20 L584.30,435.40 L584.80,436.60 L585.30,437.79 L585.80,438.99 L586.30,440.17 L586.80,441.36 L587.30,442.54 L587.80,443.71 L588.30,444.87 L588.80,446.03 L589.30,447.18 L589.80,448.33 L590.30,449.46 L590.80,450.58 L591.30,451.70 L591.80,452.80 L592.30,453.89 L592.80,454.98 L593.30,456.05 L593.80,457.10 L594.30,458.15 L594.80,459.18 L595.30,460.20 L595.80,461.21 L596.30,462.20 L596.80,463.18 L597.30,464.14 L597.80,465.09 L598.30,466.02 L598.80,466.94 L599.30,467.85 L599.80,468.74 L600.30,469.61 L600.80,470.47 L601.30,471.31 L601.80,472.14 L602.30,472.95 L602.80,473.75 L603.30,474.53 L603.80,475.29 L604.30,476.04 L604.80,476.77 L605.30,477.49 L605.80,478.19 L606.30,478.88 L606.80,479.55 L607.30,480.20 L607.80,480.84 L608.30,481.47 L608.80,482.08 L609.30,482.67 L609.80,483.25 L610.30,483.81 L610.80,484.36 L611.30,484.90 L611.80,485.42 L612.30,485.92 L612.80,486.42 L613.30,486.90 L613.80,487.36 L614.30,487.81 L614.80,488.25 L615.30,488.68 L615.80,489.09 L616.30,489.49 L616.80,489.88 L617.30,490.26 L617.80,490.63 L618.30,490.98 L618.80,491.32 L619.30,491.65 L619.80,491.97 L620.30,492.28 L620.80,492.58 L621.30,492.87 L621.80,493.15 L622.30,493.42 L622.80,493.68 L623.30,493.93 L623.80,494.18 L624.30,494.41 L624.80,494.64 L625.30,494.85 L625.80,495.06 L626.30,495.26 L626.80,495.46 L627.30,495.64 L627.80,495.82 L628.30,495.99 L628.80,496.16 L629.30,496.32 L629.80,496.47 L630.30,496.62 L630.80,496.76 L631.30,496.89 L631.80,497.02 L632.30,497.14 L632.80,497.26 L633.30,497.38 L633.80,497.48 L634.30,497.59 L634.80,497.69 L635.30,497.78 L635.80,497.87 L636.30,497.96 L636.80,498.04 L637.30,498.12 L637.80,498.20 L638.30,498.27 L638.80,498.34 L639.30,498.41 L639.80,498.47 L640.30,498.53 L640.80,498.59 L641.30,498.64 L641.80,498.69 L642.30,498.74 L642.80,498.79 L643.30,498.83 L643.80,498.87 L644.30,498.91 L644.80,498.95 L645.30,498.99 L645.80,499.02 L646.30,499.05 L646.80,499.09 L647.30,499.12 L647.80,499.14 L648.30,499.17 L648.80,499.19 L649.30,499.22 L649.80,499.24 L650.30,499.26 L650.80,499.28 L651.30,499.30 L651.80,499.32 L652.30,499.34 L652.80,499.35 L653.30,499.37 L653.80,499.38 L654.30,499.39 L654.80,499.41 L655.30,499.42 L655.80,499.43 L656.30,499.44 L656.80,499.45 L657.30,499.46 L657.80,499.47 L658.30,499.48 L658.80,499.48 L659.30,499.49 L659.80,499.50 L660.30,499.51 L660.80,499.51 L661.30,499.52 L661.80,499.52 L662.30,499.53 L662.80,499.53 L663.30,499.54 L663.80,499.54 L664.30,499.55 L664.80,499.55 L665.30,499.55 L665.80,499.56 L666.30,499.56 L666.80,499.56 L667.30,499.56 L667.80,499.57 L668.30,499.57 L668.80,499.57 L669.30,499.57 L669.80,499.58 L670.30,499.58 L670.30,499.60 Z" fill="rgb(187,141,229)" fill-opacity="0.57"/>
<path d="M389.30,499.60 L389.80,499.60 L390.30,499.60 L390.80,499.60 L391.30,499.60 L391.80,499.60 L392.30,499.60 L392.80,499.60 L393.30,499.60 L393.80,499.60 L394.30,499.60 L394.80,499.60 L395.30,499.60 L395.80,499.60 L396.30,499.60 L396.80,499.60 L397.30,499.60 L397.80,499.60 L398.30,499.60 L398.80,499.60 L399.30,499.60 L399.80,499.60 L400.30,499.60 L400.80,499.60 L401.30,499.60 L401.80,499.60 L402.30,499.60 L402.80,499.60 L403.30,499.60 L403.80,499.60 L404.30,499.60 L404.80,499.60 L405.30,499.60 L405.80,499.60 L406.30,499.60 L406.80,499.60 L407.30,499.60 L407.80,499.60 L408.30,499.60 L408.80,499.60 L409.30,499.60 L409.80,499.60 L410.30,499.60 L410.80,499.60 L411.30,499.60 L411.80,499.60 L412.30,499.60 L412.80,499.60 L413.30,499.60 L413.80,499.60 L414.30,499.60 L414.80,499.60 L415.30,499.60 L415.80,499.60 L416.30,499.60 L416.80,499.60 L417.30,499.60 L417.80,499.60 L418.30,499.60 L418.80,499.60 L419.30,499.60 L419.80,499.60 L420.30,499.60 L420.80,499.60 L421.30,499.60 L421.80,499.60 L422.30,499.60 L422.80,499.60 L423.30,499.60 L423.80,499.60 L424.30,499.60 L424.80,499.60 L425.30,499.60 L425.80,499.60 L426.30,499.60 L426.80,499.60 L427.30,499.60 L427.80,499.60 L428.30,499.60 L428.80,499.60 L429.30,499.60 L429.80,499.59 L430.30,499.59 L430.80,499.59 L431.30,499.59 L431.80,499.59 L432.30,499.59 L432.80,499.59 L433.30,499.59 L433.80,499.59 L434.30,499.59 L434.80,499.59 L435.30,499.59 L435.80,499.58 L436.30,499.58 L436.80,499.58 L437.30,499.58 L437.80,499.58 L438.30,499.57 L438.80,499.57 L439.30,499.57 L439.80,499.56 L440.30,499.56 L440.80,499.55 L441.30,499.55 L441.80,499.54 L442.30,499.54 L442.80,499.53 L443.30,499.52 L443.80,499.51 L444.30,499.50 L444.80,499.48 L445.30,499.47 L445.80,499.45 L446.30,499.43 L446.80,499.41 L447.30,499.38 L447.80,499.35 L448.30,499.32 L448.80,499.28 L449.30,499.23 L449.80,499.18 L450.30,499.13 L450.80,499.06 L451.30,498.99 L451.80,498.91 L452.30,498.82 L452.80,498.71 L453.30,498.60 L453.80,498.47 L454.30,498.32 L454.80,498.16 L455.30,497.98 L455.80,497.77 L456.30,497.55 L456.80,497.30 L457.30,497.02 L457.80,496.71 L458.30,496.37 L458.80,495.99 L459.30,495.58 L459.80,495.12 L460.30,494.62 L460.80,494.07 L461.30,493.47 L461.80,492.82 L462.30,492.11 L462.80,491.33 L463.30,490.49 L463.80,489.58 L464.30,488.60 L464.80,487.54 L465.30,486.40 L465.80,485.17 L466.30,483.85 L466.80,482.45 L467.30,480.94 L467.80,479.34 L468.30,477.63 L468.80,475.83 L469.30,473.91 L469.80,471.89 L470.30,469.75 L470.80,467.51 L471.30,465.15 L471.80,462.68 L472.30,460.10 L472.80,457.41 L473.30,454.62 L473.80,451.71 L474.30,448.71 L474.80,445.60 L475.30,442.41 L475.80,439.12 L476.30,435.75 L476.80,432.31 L477.30,428.79 L477.80,425.22 L478.30,421.60 L478.80,417.94 L479.30,414.25 L479.80,410.54 L480.30,406.82 L480.80,403.10 L481.30,399.40 L481.80,395.73 L482.30,392.10 L482.80,388.53 L483.30,385.02 L483.80,381.60 L484.30,378.27 L484.80,375.04 L485.30,371.93 L485.80,368.96 L486.30,366.12 L486.80,363.44 L487.30,360.92 L487.80,358.57 L488.30,356.40 L488.80,354.42 L489.30,352.63 L489.80,351.04 L490.30,349.66 L490.80,348.48 L491.30,347.51 L491.80,346.74 L492.30,346.19 L492.80,345.84 L493.30,345.69 L493.80,345.74 L494.30,345.99 L494.80,346.42 L495.30,347.03 L495.80,347.80 L496.30,348.74 L496.80,349.83 L497.30,351.06 L497.80,352.41 L498.30,353.88 L498.80,355.45 L499.30,357.11 L499.80,358.84 L500.30,360.63 L500.80,362.47 L501.30,364.34 L501.80,366.23 L502.30,368.13 L502.80,370.02 L503.30,371.88 L503.80,373.72 L504.30,375.51 L504.80,377.24 L505.30,378.91 L505.80,380.50 L506.30,382.00 L506.80,383.41 L507.30,384.72 L507.80,385.93 L508.30,387.01 L508.80,387.99 L509.30,388.83 L509.80,389.56 L510.30,390.16 L510.80,390.62 L511.30,390.96 L511.80,391.17 L512.30,391.25 L512.80,391.20 L513.30,391.03 L513.80,390.73 L514.30,390.32 L514.80,389.79 L515.30,389.14 L515.80,388.40 L516.30,387.55 L516.80,386.60 L517.30,385.57 L517.80,384.45 L518.30,383.25 L518.80,381.98 L519.30,380.64 L519.80,379.25 L520.30,377.80 L520.80,376.30 L521.30,374.77 L521.80,373.20 L522.30,371.60 L522.80,369.98 L523.30,368.34 L523.80,366.70 L524.30,365.04 L524.80,363.40 L525.30,361.75 L525.80,360.12 L526.30,358.51 L526.80,356.91 L527.30,355.34 L527.80,353.80 L528.30,352.30 L528.80,350.83 L529.30,349.40 L529.80,348.02 L530.30,346.68 L530.80,345.39 L531.30,344.16 L531.80,342.98 L532.30,341.85 L532.80,340.79 L533.30,339.78 L533.80,338.84 L534.30,337.96 L534.80,337.14 L535.30,336.39 L535.80,335.70 L536.30,335.08 L536.80,334.53 L537.30,334.04 L537.80,333.62 L538.30,333.27 L538.80,332.98 L539.30,332.76 L539.80,332.60 L540.30,332.51 L540.80,332.48 L541.30,332.51 L541.80,332.61 L542.30,332.77 L542.80,332.98 L543.30,333.26 L543.80,333.59 L544.30,333.98 L544.80,334.42 L545.30,334.92 L545.80,335.47 L546.30,336.06 L546.80,336.71 L547.30,337.40 L547.80,338.14 L548.30,338.92 L548.80,339.74 L549.30,340.60 L549.80,341.50 L550.30,342.44 L550.80,343.41 L551.30,344.41 L551.80,345.45 L552.30,346.52 L552.80,347.61 L553.30,348.74 L553.80,349.89 L554.30,351.06 L554.80,352.25 L555.30,353.47 L555.80,354.71 L556.30,355.97 L556.80,357.24 L557.30,358.53 L557.80,359.84 L558.30,361.16 L558.80,362.49 L559.30,363.84 L559.80,365.19 L560.30,366.56 L560.80,367.94 L561.30,369.32 L561.80,370.72 L562.30,372.12 L562.80,373.52 L563.30,374.94 L563.80,376.36 L564.30,377.78 L564.80,379.20 L565.30,380.63 L565.80,382.07 L566.30,383.50 L566.80,384.94 L567.30,386.38 L567.80,387.82 L568.30,389.26 L568.80,390.70 L569.30,392.15 L569.80,393.59 L570.30,395.03 L570.80,396.47 L571.30,397.91 L571.80,399.35 L572.30,400.79 L572.80,402.22 L573.30,403.65 L573.80,405.09 L574.30,406.51 L574.80,407.94 L575.30,409.36 L575.80,410.78 L576.30,412.19 L576.80,413.60 L577.30,415.00 L577.80,416.40 L578.30,417.80 L578.80,419.19 L579.30,420.57 L579.80,421.95 L580.30,423.32 L580.80,424.69 L581.30,426.05 L581.80,427.40 L582.30,428.74 L582.80,430.08 L583.30,431.40 L583.80,432.72 L584.30,434.03 L584.80,435.33 L585.30,436.63 L585.80,437.91 L586.30,439.18 L586.80,440.44 L587.30,441.69 L587.80,442.93 L588.30,444.16 L588.80,445.37 L589.30,446.58 L589.80,447.77 L590.30,448.95 L590.80,450.12 L591.30,451.27 L591.80,452.41 L592.30,453.54 L592.80,454.65 L593.30,455.75 L593.80,456.83 L594.30,457.90 L594.80,458.95 L595.30,459.99 L595.80,461.02 L596.30,462.03 L596.80,463.02 L597.30,464.00 L597.80,464.96 L598.30,465.91 L598.80,466.84 L599.30,467.75 L599.80,468.65 L600.30,469.53 L600.80,470.40 L601.30,471.25 L601.80,472.08 L602.30,472.90 L602.80,473.70 L603.30,474.49 L603.80,475.26 L604.30,476.01 L604.80,476.74 L605.30,477.46 L605.80,478.17 L606.30,478.86 L606.80,479.53 L607.30,480.19 L607.80,480.83 L608.30,481.45 L608.80,482.06 L609.30,482.66 L609.80,483.24 L610.30,483.80 L610.80,484.35 L611.30,484.89 L611.80,485.41 L612.30,485.92 L612.80,486.41 L613.30,486.89 L613.80,487.36 L614.30,487.81 L614.80,488.25 L615.30,488.68 L615.80,489.09 L616.30,489.49 L616.80,489.88 L617.30,490.26 L617.80,490.62 L618.30,490.98 L618.80,491.32 L619.30,491.65 L619.80,491.97 L620.30,492.28 L620.80,492.58 L621.30,492.87 L621.80,493.15 L622.30,493.42 L622.80,493.68 L623.30,493.93 L623.80,494.18 L624.30,494.41 L624.80,494.64 L625.30,494.85 L625.80,495.06 L626.30,495.26 L626.80,495.46 L627.30,495.64 L627.80,495.82 L628.30,495.99 L628.80,496.16 L629.30,496.32 L629.80,496.47 L630.30,496.62 L630.80,496.76 L631.30,496.89 L631.80,497.02 L632.30,497.14 L632.80,497.26 L633.30,497.38 L633.80,497.48 L634.30,497.59 L634.80,497.69 L635.30,497.78 L635.80,497.87 L636.30,497.96 L636.80,498.04 L637.30,498.12 L637.80,498.20 L638.30,498.27 L638.80,498.34 L639.30,498.41 L639.80,498.47 L640.30,498.53 L640.80,498.59 L641.30,498.64 L641.80,498.69 L642.30,498.74 L642.80,498.79 L643.30,498.83 L643.80,498.87 L644.30,498.91 L644.80,498.95 L645.30,498.99 L645.80,499.02 L646.30,499.05 L646.80,499.09 L647.30,499.12 L647.80,499.14 L648.30,499.17 L648.80,499.19 L649.30,499.22 L649.80,499.24 L650.30,499.26 L650.80,499.28 L651.30,499.30 L651.80,499.32 L652.30,499.34 L652.80,499.35 L653.30,499.37 L653.80,499.38 L654.30,499.39 L654.80,499.41 L655.30,499.42 L655.80,499.43 L656.30,499.44 L656.80,499.45 L657.30,499.46 L657.80,499.47 L658.30,499.48 L658.80,499.48 L659.30,499.49 L659.80,499.50 L660.30,499.51 L660.80,499.51 L661.30,499.52 L661.80,499.52 L662.30,499.53 L662.80,499.53 L663.30,499.54 L663.80,499.54 L664.30,499.55 L664.80,499.55 L665.30,499.55 L665.80,499.56 L666.30,499.56 L666.80,499.56 L667.30,499.56 L667.80,499.57 L668.30,499.57 L668.80,499.57 L669.30,499.57 L669.80,499.58 L670.30,499.58" fill="none" stroke="#ee3a3f" stroke-width="3.4" stroke-linejoin="round"/>
<rect x="389.30" y="305.50" width="281.20" height="218.30" fill="none" stroke="#404040" stroke-width="1.40"/>
<text x="389.30" y="542.80" font-size="17.50" text-anchor="middle">526</text>
<line x1="417.42" y1="523.80" x2="417.42" y2="521.20" stroke="#404040" stroke-width="1.40"/>
<line x1="445.54" y1="523.80" x2="445.54" y2="519.30" stroke="#404040" stroke-width="1.40"/>
<text x="445.54" y="542.80" font-size="17.50" text-anchor="middle">528</text>
<line x1="473.66" y1="523.80" x2="473.66" y2="521.20" stroke="#404040" stroke-width="1.40"/>
<line x1="501.78" y1="523.80" x2="501.78" y2="519.30" stroke="#404040" stroke-width="1.40"/>
<text x="501.78" y="542.80" font-size="17.50" text-anchor="middle">530</text>
<line x1="529.90" y1="523.80" x2="529.90" y2="521.20" stroke="#404040" stroke-width="1.40"/>
<line x1="558.02" y1="523.80" x2="558.02" y2="519.30" stroke="#404040" stroke-width="1.40"/>
<text x="558.02" y="542.80" font-size="17.50" text-anchor="middle">532</text>
<line x1="586.14" y1="523.80" x2="586.14" y2="521.20" stroke="#404040" stroke-width="1.40"/>
<line x1="614.26" y1="523.80" x2="614.26" y2="519.30" stroke="#404040" stroke-width="1.40"/>
<text x="614.26" y="542.80" font-size="17.50" text-anchor="middle">534</text>
<line x1="642.38" y1="523.80" x2="642.38" y2="521.20" stroke="#404040" stroke-width="1.40"/>
<text x="670.50" y="542.80" font-size="17.50" text-anchor="middle">536</text>
<text x="396.20" y="327.90" font-size="17.80" text-anchor="start">O 1<tspan font-style="italic" dx="1.4">s</tspan></text>
<text x="529.10" y="573.70" font-size="20.20" text-anchor="middle">Binding Energy (eV)</text>
<text x="0" y="0" font-size="20.20" text-anchor="middle" transform="translate(376.00,414.65) rotate(-90)">Intensity (a.u.)</text>
<text x="346.40" y="316.90" font-size="24.00" text-anchor="start">(d)</text>
</svg>
</body></html>
